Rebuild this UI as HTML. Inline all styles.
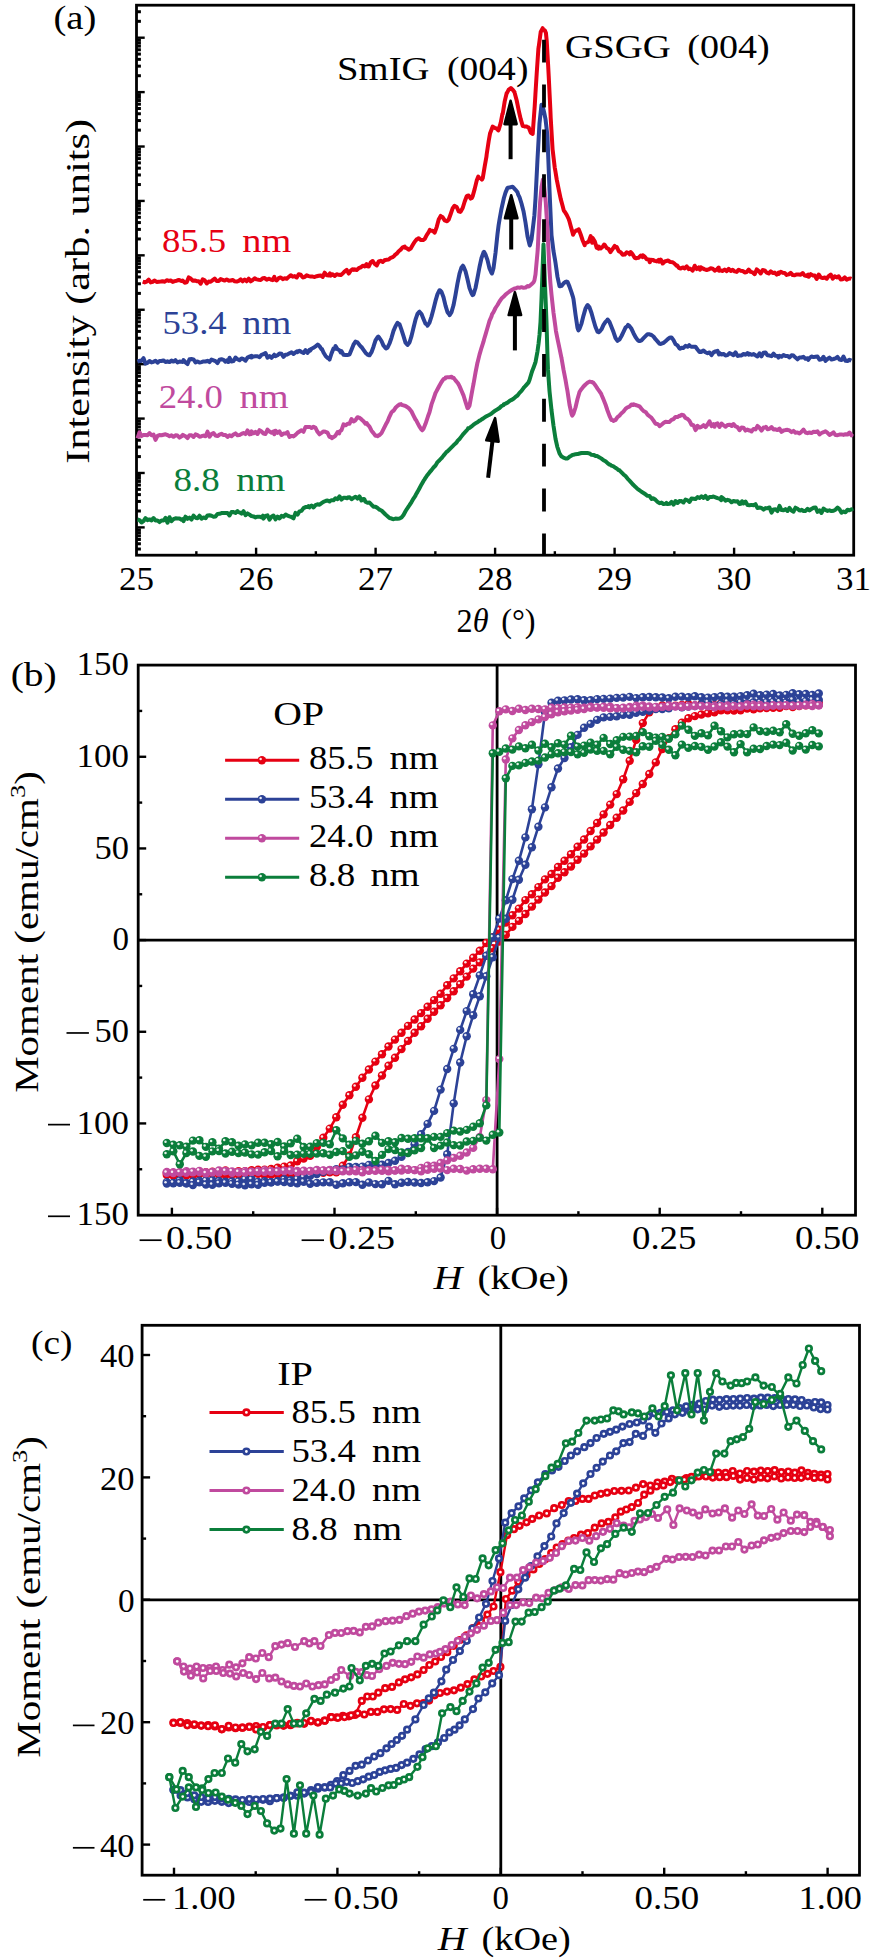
<!DOCTYPE html>
<html><head><meta charset="utf-8"><style>
html,body{margin:0;padding:0;background:#fff;}
svg{display:block;}
text{font-family:"Liberation Serif", serif;}
</style></head><body>
<svg width="874" height="1958" viewBox="0 0 874 1958">
<rect width="874" height="1958" fill="#fff"/>
<rect x="136.5" y="5.2" width="717.2" height="550" fill="none" stroke="#000" stroke-width="2.8"/>
<line x1="196.35" y1="555.2" x2="196.35" y2="551.2" stroke="#000" stroke-width="2.4" />
<line x1="256.1" y1="555.2" x2="256.1" y2="547.7" stroke="#000" stroke-width="2.4" />
<line x1="315.85" y1="555.2" x2="315.85" y2="551.2" stroke="#000" stroke-width="2.4" />
<line x1="375.6" y1="555.2" x2="375.6" y2="547.7" stroke="#000" stroke-width="2.4" />
<line x1="435.35" y1="555.2" x2="435.35" y2="551.2" stroke="#000" stroke-width="2.4" />
<line x1="495.1" y1="555.2" x2="495.1" y2="547.7" stroke="#000" stroke-width="2.4" />
<line x1="554.85" y1="555.2" x2="554.85" y2="551.2" stroke="#000" stroke-width="2.4" />
<line x1="614.6" y1="555.2" x2="614.6" y2="547.7" stroke="#000" stroke-width="2.4" />
<line x1="674.35" y1="555.2" x2="674.35" y2="551.2" stroke="#000" stroke-width="2.4" />
<line x1="734.1" y1="555.2" x2="734.1" y2="547.7" stroke="#000" stroke-width="2.4" />
<line x1="793.85" y1="555.2" x2="793.85" y2="551.2" stroke="#000" stroke-width="2.4" />
<line x1="136.5" y1="21.32" x2="140.9" y2="21.32" stroke="#000" stroke-width="3.0" />
<line x1="136.5" y1="11.74" x2="140.9" y2="11.74" stroke="#000" stroke-width="3.0" />
<line x1="136.5" y1="37.7" x2="144.7" y2="37.7" stroke="#000" stroke-width="2.4" />
<line x1="136.5" y1="75.73" x2="140.9" y2="75.73" stroke="#000" stroke-width="3.0" />
<line x1="136.5" y1="66.15" x2="140.9" y2="66.15" stroke="#000" stroke-width="3.0" />
<line x1="136.5" y1="59.35" x2="140.9" y2="59.35" stroke="#000" stroke-width="3.0" />
<line x1="136.5" y1="54.08" x2="140.9" y2="54.08" stroke="#000" stroke-width="3.0" />
<line x1="136.5" y1="49.77" x2="140.9" y2="49.77" stroke="#000" stroke-width="3.0" />
<line x1="136.5" y1="46.13" x2="140.9" y2="46.13" stroke="#000" stroke-width="3.0" />
<line x1="136.5" y1="42.97" x2="140.9" y2="42.97" stroke="#000" stroke-width="3.0" />
<line x1="136.5" y1="40.19" x2="140.9" y2="40.19" stroke="#000" stroke-width="3.0" />
<line x1="136.5" y1="92.11" x2="144.7" y2="92.11" stroke="#000" stroke-width="2.4" />
<line x1="136.5" y1="130.14" x2="140.9" y2="130.14" stroke="#000" stroke-width="3.0" />
<line x1="136.5" y1="120.56" x2="140.9" y2="120.56" stroke="#000" stroke-width="3.0" />
<line x1="136.5" y1="113.76" x2="140.9" y2="113.76" stroke="#000" stroke-width="3.0" />
<line x1="136.5" y1="108.49" x2="140.9" y2="108.49" stroke="#000" stroke-width="3.0" />
<line x1="136.5" y1="104.18" x2="140.9" y2="104.18" stroke="#000" stroke-width="3.0" />
<line x1="136.5" y1="100.54" x2="140.9" y2="100.54" stroke="#000" stroke-width="3.0" />
<line x1="136.5" y1="97.38" x2="140.9" y2="97.38" stroke="#000" stroke-width="3.0" />
<line x1="136.5" y1="94.6" x2="140.9" y2="94.6" stroke="#000" stroke-width="3.0" />
<line x1="136.5" y1="146.52" x2="144.7" y2="146.52" stroke="#000" stroke-width="2.4" />
<line x1="136.5" y1="184.55" x2="140.9" y2="184.55" stroke="#000" stroke-width="3.0" />
<line x1="136.5" y1="174.97" x2="140.9" y2="174.97" stroke="#000" stroke-width="3.0" />
<line x1="136.5" y1="168.17" x2="140.9" y2="168.17" stroke="#000" stroke-width="3.0" />
<line x1="136.5" y1="162.9" x2="140.9" y2="162.9" stroke="#000" stroke-width="3.0" />
<line x1="136.5" y1="158.59" x2="140.9" y2="158.59" stroke="#000" stroke-width="3.0" />
<line x1="136.5" y1="154.95" x2="140.9" y2="154.95" stroke="#000" stroke-width="3.0" />
<line x1="136.5" y1="151.79" x2="140.9" y2="151.79" stroke="#000" stroke-width="3.0" />
<line x1="136.5" y1="149.01" x2="140.9" y2="149.01" stroke="#000" stroke-width="3.0" />
<line x1="136.5" y1="200.93" x2="144.7" y2="200.93" stroke="#000" stroke-width="2.4" />
<line x1="136.5" y1="238.96" x2="140.9" y2="238.96" stroke="#000" stroke-width="3.0" />
<line x1="136.5" y1="229.38" x2="140.9" y2="229.38" stroke="#000" stroke-width="3.0" />
<line x1="136.5" y1="222.58" x2="140.9" y2="222.58" stroke="#000" stroke-width="3.0" />
<line x1="136.5" y1="217.31" x2="140.9" y2="217.31" stroke="#000" stroke-width="3.0" />
<line x1="136.5" y1="213" x2="140.9" y2="213" stroke="#000" stroke-width="3.0" />
<line x1="136.5" y1="209.36" x2="140.9" y2="209.36" stroke="#000" stroke-width="3.0" />
<line x1="136.5" y1="206.2" x2="140.9" y2="206.2" stroke="#000" stroke-width="3.0" />
<line x1="136.5" y1="203.42" x2="140.9" y2="203.42" stroke="#000" stroke-width="3.0" />
<line x1="136.5" y1="255.34" x2="144.7" y2="255.34" stroke="#000" stroke-width="2.4" />
<line x1="136.5" y1="293.37" x2="140.9" y2="293.37" stroke="#000" stroke-width="3.0" />
<line x1="136.5" y1="283.79" x2="140.9" y2="283.79" stroke="#000" stroke-width="3.0" />
<line x1="136.5" y1="276.99" x2="140.9" y2="276.99" stroke="#000" stroke-width="3.0" />
<line x1="136.5" y1="271.72" x2="140.9" y2="271.72" stroke="#000" stroke-width="3.0" />
<line x1="136.5" y1="267.41" x2="140.9" y2="267.41" stroke="#000" stroke-width="3.0" />
<line x1="136.5" y1="263.77" x2="140.9" y2="263.77" stroke="#000" stroke-width="3.0" />
<line x1="136.5" y1="260.61" x2="140.9" y2="260.61" stroke="#000" stroke-width="3.0" />
<line x1="136.5" y1="257.83" x2="140.9" y2="257.83" stroke="#000" stroke-width="3.0" />
<line x1="136.5" y1="309.75" x2="144.7" y2="309.75" stroke="#000" stroke-width="2.4" />
<line x1="136.5" y1="347.78" x2="140.9" y2="347.78" stroke="#000" stroke-width="3.0" />
<line x1="136.5" y1="338.2" x2="140.9" y2="338.2" stroke="#000" stroke-width="3.0" />
<line x1="136.5" y1="331.4" x2="140.9" y2="331.4" stroke="#000" stroke-width="3.0" />
<line x1="136.5" y1="326.13" x2="140.9" y2="326.13" stroke="#000" stroke-width="3.0" />
<line x1="136.5" y1="321.82" x2="140.9" y2="321.82" stroke="#000" stroke-width="3.0" />
<line x1="136.5" y1="318.18" x2="140.9" y2="318.18" stroke="#000" stroke-width="3.0" />
<line x1="136.5" y1="315.02" x2="140.9" y2="315.02" stroke="#000" stroke-width="3.0" />
<line x1="136.5" y1="312.24" x2="140.9" y2="312.24" stroke="#000" stroke-width="3.0" />
<line x1="136.5" y1="364.16" x2="144.7" y2="364.16" stroke="#000" stroke-width="2.4" />
<line x1="136.5" y1="402.19" x2="140.9" y2="402.19" stroke="#000" stroke-width="3.0" />
<line x1="136.5" y1="392.61" x2="140.9" y2="392.61" stroke="#000" stroke-width="3.0" />
<line x1="136.5" y1="385.81" x2="140.9" y2="385.81" stroke="#000" stroke-width="3.0" />
<line x1="136.5" y1="380.54" x2="140.9" y2="380.54" stroke="#000" stroke-width="3.0" />
<line x1="136.5" y1="376.23" x2="140.9" y2="376.23" stroke="#000" stroke-width="3.0" />
<line x1="136.5" y1="372.59" x2="140.9" y2="372.59" stroke="#000" stroke-width="3.0" />
<line x1="136.5" y1="369.43" x2="140.9" y2="369.43" stroke="#000" stroke-width="3.0" />
<line x1="136.5" y1="366.65" x2="140.9" y2="366.65" stroke="#000" stroke-width="3.0" />
<line x1="136.5" y1="418.57" x2="144.7" y2="418.57" stroke="#000" stroke-width="2.4" />
<line x1="136.5" y1="456.6" x2="140.9" y2="456.6" stroke="#000" stroke-width="3.0" />
<line x1="136.5" y1="447.02" x2="140.9" y2="447.02" stroke="#000" stroke-width="3.0" />
<line x1="136.5" y1="440.22" x2="140.9" y2="440.22" stroke="#000" stroke-width="3.0" />
<line x1="136.5" y1="434.95" x2="140.9" y2="434.95" stroke="#000" stroke-width="3.0" />
<line x1="136.5" y1="430.64" x2="140.9" y2="430.64" stroke="#000" stroke-width="3.0" />
<line x1="136.5" y1="427" x2="140.9" y2="427" stroke="#000" stroke-width="3.0" />
<line x1="136.5" y1="423.84" x2="140.9" y2="423.84" stroke="#000" stroke-width="3.0" />
<line x1="136.5" y1="421.06" x2="140.9" y2="421.06" stroke="#000" stroke-width="3.0" />
<line x1="136.5" y1="472.98" x2="144.7" y2="472.98" stroke="#000" stroke-width="2.4" />
<line x1="136.5" y1="511.01" x2="140.9" y2="511.01" stroke="#000" stroke-width="3.0" />
<line x1="136.5" y1="501.43" x2="140.9" y2="501.43" stroke="#000" stroke-width="3.0" />
<line x1="136.5" y1="494.63" x2="140.9" y2="494.63" stroke="#000" stroke-width="3.0" />
<line x1="136.5" y1="489.36" x2="140.9" y2="489.36" stroke="#000" stroke-width="3.0" />
<line x1="136.5" y1="485.05" x2="140.9" y2="485.05" stroke="#000" stroke-width="3.0" />
<line x1="136.5" y1="481.41" x2="140.9" y2="481.41" stroke="#000" stroke-width="3.0" />
<line x1="136.5" y1="478.25" x2="140.9" y2="478.25" stroke="#000" stroke-width="3.0" />
<line x1="136.5" y1="475.47" x2="140.9" y2="475.47" stroke="#000" stroke-width="3.0" />
<line x1="136.5" y1="527.39" x2="144.7" y2="527.39" stroke="#000" stroke-width="2.4" />
<line x1="136.5" y1="549.04" x2="140.9" y2="549.04" stroke="#000" stroke-width="3.0" />
<line x1="136.5" y1="543.77" x2="140.9" y2="543.77" stroke="#000" stroke-width="3.0" />
<line x1="136.5" y1="539.46" x2="140.9" y2="539.46" stroke="#000" stroke-width="3.0" />
<line x1="136.5" y1="535.82" x2="140.9" y2="535.82" stroke="#000" stroke-width="3.0" />
<line x1="136.5" y1="532.66" x2="140.9" y2="532.66" stroke="#000" stroke-width="3.0" />
<line x1="136.5" y1="529.88" x2="140.9" y2="529.88" stroke="#000" stroke-width="3.0" />
<rect x="138.2" y="665.1" width="717.3" height="550.1" fill="none" stroke="#000" stroke-width="2.8"/>
<line x1="171.9" y1="1215.2" x2="171.9" y2="1207.7" stroke="#000" stroke-width="2.4" />
<line x1="253.2" y1="1215.2" x2="253.2" y2="1211.2" stroke="#000" stroke-width="2.4" />
<line x1="334.5" y1="1215.2" x2="334.5" y2="1207.7" stroke="#000" stroke-width="2.4" />
<line x1="415.8" y1="1215.2" x2="415.8" y2="1211.2" stroke="#000" stroke-width="2.4" />
<line x1="497.1" y1="1215.2" x2="497.1" y2="1207.7" stroke="#000" stroke-width="2.4" />
<line x1="578.4" y1="1215.2" x2="578.4" y2="1211.2" stroke="#000" stroke-width="2.4" />
<line x1="659.7" y1="1215.2" x2="659.7" y2="1207.7" stroke="#000" stroke-width="2.4" />
<line x1="741" y1="1215.2" x2="741" y2="1211.2" stroke="#000" stroke-width="2.4" />
<line x1="822.3" y1="1215.2" x2="822.3" y2="1207.7" stroke="#000" stroke-width="2.4" />
<line x1="138.2" y1="1169.26" x2="142.2" y2="1169.26" stroke="#000" stroke-width="2.4" />
<line x1="138.2" y1="1123.43" x2="146.2" y2="1123.43" stroke="#000" stroke-width="2.4" />
<line x1="138.2" y1="1077.6" x2="142.2" y2="1077.6" stroke="#000" stroke-width="2.4" />
<line x1="138.2" y1="1031.77" x2="146.2" y2="1031.77" stroke="#000" stroke-width="2.4" />
<line x1="138.2" y1="985.93" x2="142.2" y2="985.93" stroke="#000" stroke-width="2.4" />
<line x1="138.2" y1="940.1" x2="146.2" y2="940.1" stroke="#000" stroke-width="2.4" />
<line x1="138.2" y1="894.27" x2="142.2" y2="894.27" stroke="#000" stroke-width="2.4" />
<line x1="138.2" y1="848.44" x2="146.2" y2="848.44" stroke="#000" stroke-width="2.4" />
<line x1="138.2" y1="802.6" x2="142.2" y2="802.6" stroke="#000" stroke-width="2.4" />
<line x1="138.2" y1="756.77" x2="146.2" y2="756.77" stroke="#000" stroke-width="2.4" />
<line x1="138.2" y1="710.94" x2="142.2" y2="710.94" stroke="#000" stroke-width="2.4" />
<line x1="138.2" y1="940.1" x2="855.5" y2="940.1" stroke="#000" stroke-width="2.8" />
<line x1="497.1" y1="665.1" x2="497.1" y2="1215.2" stroke="#000" stroke-width="2.8" />
<rect x="142.1" y="1325.3" width="717.4" height="549.9" fill="none" stroke="#000" stroke-width="2.8"/>
<line x1="174" y1="1875.2" x2="174" y2="1867.7" stroke="#000" stroke-width="2.4" />
<line x1="255.7" y1="1875.2" x2="255.7" y2="1871.2" stroke="#000" stroke-width="2.4" />
<line x1="337.4" y1="1875.2" x2="337.4" y2="1867.7" stroke="#000" stroke-width="2.4" />
<line x1="419.1" y1="1875.2" x2="419.1" y2="1871.2" stroke="#000" stroke-width="2.4" />
<line x1="500.8" y1="1875.2" x2="500.8" y2="1867.7" stroke="#000" stroke-width="2.4" />
<line x1="582.5" y1="1875.2" x2="582.5" y2="1871.2" stroke="#000" stroke-width="2.4" />
<line x1="664.2" y1="1875.2" x2="664.2" y2="1867.7" stroke="#000" stroke-width="2.4" />
<line x1="745.9" y1="1875.2" x2="745.9" y2="1871.2" stroke="#000" stroke-width="2.4" />
<line x1="827.6" y1="1875.2" x2="827.6" y2="1867.7" stroke="#000" stroke-width="2.4" />
<line x1="142.1" y1="1844.6" x2="150.1" y2="1844.6" stroke="#000" stroke-width="2.4" />
<line x1="142.1" y1="1783.4" x2="146.1" y2="1783.4" stroke="#000" stroke-width="2.4" />
<line x1="142.1" y1="1722.2" x2="150.1" y2="1722.2" stroke="#000" stroke-width="2.4" />
<line x1="142.1" y1="1661" x2="146.1" y2="1661" stroke="#000" stroke-width="2.4" />
<line x1="142.1" y1="1599.8" x2="150.1" y2="1599.8" stroke="#000" stroke-width="2.4" />
<line x1="142.1" y1="1538.6" x2="146.1" y2="1538.6" stroke="#000" stroke-width="2.4" />
<line x1="142.1" y1="1477.4" x2="150.1" y2="1477.4" stroke="#000" stroke-width="2.4" />
<line x1="142.1" y1="1416.2" x2="146.1" y2="1416.2" stroke="#000" stroke-width="2.4" />
<line x1="142.1" y1="1355" x2="150.1" y2="1355" stroke="#000" stroke-width="2.4" />
<line x1="142.1" y1="1599.8" x2="859.5" y2="1599.8" stroke="#000" stroke-width="2.8" />
<line x1="500.8" y1="1325.3" x2="500.8" y2="1875.2" stroke="#000" stroke-width="2.8" />
<defs>
<marker id="sR" markerUnits="userSpaceOnUse" markerWidth="12" markerHeight="12" refX="6" refY="6" overflow="visible"><circle cx="6" cy="6" r="4.2" fill="#e60012"/><circle cx="4.7" cy="4.7" r="1.25" fill="#fff" opacity="0.9"/></marker>
<marker id="sB" markerUnits="userSpaceOnUse" markerWidth="12" markerHeight="12" refX="6" refY="6" overflow="visible"><circle cx="6" cy="6" r="4.2" fill="#2c4297"/><circle cx="4.7" cy="4.7" r="1.25" fill="#fff" opacity="0.9"/></marker>
<marker id="sM" markerUnits="userSpaceOnUse" markerWidth="12" markerHeight="12" refX="6" refY="6" overflow="visible"><circle cx="6" cy="6" r="4.2" fill="#c04a9e"/><circle cx="4.7" cy="4.7" r="1.25" fill="#fff" opacity="0.9"/></marker>
<marker id="sG" markerUnits="userSpaceOnUse" markerWidth="12" markerHeight="12" refX="6" refY="6" overflow="visible"><circle cx="6" cy="6" r="4.2" fill="#0b7e3b"/><circle cx="4.7" cy="4.7" r="1.25" fill="#fff" opacity="0.9"/></marker>
<marker id="oR" markerUnits="userSpaceOnUse" markerWidth="12" markerHeight="12" refX="6" refY="6" overflow="visible"><circle cx="6" cy="6" r="2.75" fill="#fff" stroke="#e60012" stroke-width="2.7"/></marker>
<marker id="oB" markerUnits="userSpaceOnUse" markerWidth="12" markerHeight="12" refX="6" refY="6" overflow="visible"><circle cx="6" cy="6" r="2.75" fill="#fff" stroke="#2c4297" stroke-width="2.7"/></marker>
<marker id="oM" markerUnits="userSpaceOnUse" markerWidth="12" markerHeight="12" refX="6" refY="6" overflow="visible"><circle cx="6" cy="6" r="2.75" fill="#fff" stroke="#c04a9e" stroke-width="2.7"/></marker>
<marker id="oG" markerUnits="userSpaceOnUse" markerWidth="12" markerHeight="12" refX="6" refY="6" overflow="visible"><circle cx="6" cy="6" r="2.75" fill="#fff" stroke="#0b7e3b" stroke-width="2.7"/></marker>
</defs>
<path d="M142.7,281.7 L144.7,282.4 L146.7,281.7 L148.7,279.6 L150.7,282.4 L152.7,281.8 L154.7,280.5 L156.7,282.0 L158.7,281.7 L160.7,281.5 L162.7,281.2 L164.7,281.8 L166.7,280.2 L168.7,280.9 L170.7,280.5 L172.7,281.9 L174.7,281.1 L176.7,280.7 L178.7,280.0 L180.7,280.7 L182.0,281.0 L182.7,280.6 L184.7,282.7 L186.7,282.3 L188.7,277.4 L190.7,278.5 L192.7,280.7 L194.7,280.4 L196.7,281.2 L198.7,281.2 L200.7,283.6 L202.7,279.4 L204.7,280.3 L206.7,283.5 L208.7,281.6 L210.7,281.7 L212.7,280.1 L214.7,278.6 L216.7,281.0 L218.7,280.9 L220.7,279.1 L222.7,279.8 L224.7,280.6 L226.7,279.4 L228.5,280.5 L228.7,280.7 L230.7,280.6 L232.7,279.9 L234.7,281.3 L236.7,281.6 L238.7,280.8 L240.7,279.3 L242.7,281.3 L244.7,279.6 L246.7,281.3 L248.7,278.7 L250.7,281.3 L252.7,280.0 L254.7,278.3 L256.7,279.4 L258.7,279.8 L260.7,280.0 L262.7,278.3 L264.7,278.1 L266.7,279.7 L268.7,278.7 L270.7,279.5 L272.7,280.1 L274.3,276.9 L274.7,279.3 L276.7,280.4 L278.7,278.2 L280.7,277.4 L282.7,279.1 L284.7,278.2 L286.7,278.8 L288.7,276.9 L290.7,275.2 L292.7,276.7 L294.7,276.1 L296.7,277.5 L297.2,276.8 L298.7,274.3 L300.7,274.8 L302.7,277.4 L304.7,277.1 L306.7,275.3 L308.7,276.1 L310.7,276.6 L312.7,276.6 L314.7,277.0 L316.7,276.2 L318.7,275.7 L320.7,275.4 L322.7,277.0 L324.7,272.7 L326.7,275.3 L328.7,275.4 L330.0,273.4 L330.7,275.7 L332.7,274.2 L334.7,275.9 L336.7,274.2 L338.7,274.8 L340.7,275.1 L342.7,273.5 L344.7,271.3 L346.7,269.9 L348.7,273.6 L350.7,270.6 L352.7,269.2 L353.8,270.0 L354.7,269.3 L356.7,270.0 L358.7,268.2 L360.7,267.4 L362.7,265.7 L364.7,266.5 L366.6,264.0 L366.7,266.1 L368.7,266.6 L370.7,262.4 L372.7,261.0 L374.7,264.0 L376.7,265.5 L378.7,261.5 L380.7,260.8 L382.7,261.9 L384.7,260.1 L384.9,260.3 L386.7,259.7 L388.7,259.5 L390.7,257.8 L392.7,257.1 L394.1,256.0 L394.7,255.2 L396.7,253.7 L398.7,251.2 L400.7,249.6 L402.7,247.3 L404.7,246.5 L405.1,247.7 L406.7,248.1 L408.7,249.7 L410.7,248.6 L412.7,245.1 L414.7,241.7 L416.7,239.4 L417.9,238.8 L418.7,238.2 L420.7,240.0 L422.7,240.1 L423.4,240.0 L424.7,239.0 L426.7,235.1 L428.7,232.1 L429.8,229.9 L430.7,230.8 L432.7,230.7 L434.3,232.3 L434.7,232.6 L436.7,227.1 L438.7,219.5 L440.7,215.9 L440.8,216.2 L442.7,217.3 L444.7,220.4 L446.7,221.3 L447.2,221.0 L448.7,219.5 L450.7,214.0 L452.7,208.2 L454.5,205.8 L454.7,205.9 L456.7,207.0 L458.7,211.4 L460.3,211.9 L460.7,211.5 L462.7,208.0 L464.7,201.5 L466.7,196.3 L467.3,195.8 L468.7,195.6 L470.7,198.6 L471.9,197.9 L472.7,196.1 L474.7,188.9 L476.7,180.6 L478.3,176.6 L478.7,177.5 L480.7,178.4 L481.9,179.6 L482.7,178.3 L484.7,166.3 L486.4,156.9 L486.7,154.3 L488.7,141.0 L490.1,133.2 L490.7,131.7 L492.7,126.6 L493.8,127.3 L494.7,127.8 L496.7,128.6 L498.3,130.4 L498.7,129.6 L500.7,122.9 L502.5,113.4 L502.7,114.0 L504.7,101.4 L506.7,93.0 L506.8,93.3 L508.7,89.6 L510.7,88.3 L510.9,88.1 L512.7,89.7 L514.6,92.3 L514.7,92.9 L516.7,100.5 L518.7,110.4 L519.1,112.2 L520.7,119.1 L522.7,125.9 L522.8,125.4 L524.7,126.4 L526.7,126.6 L528.0,127.2 L528.7,127.6 L530.7,132.6 L532.5,134.0 L532.7,133.9 L534.7,106.3 L535.4,94.6 L536.7,73.5 L538.4,48.7 L538.7,46.9 L540.7,32.0 L542.7,28.2 L542.9,29.3 L544.7,30.2 L545.9,32.8 L546.7,40.7 L548.1,64.5 L548.7,75.9 L550.3,108.4 L550.7,117.9 L552.6,149.7 L552.7,150.3 L554.7,167.3 L555.5,171.8 L556.7,179.4 L558.3,187.3 L558.7,189.4 L560.7,198.9 L562.7,206.2 L563.8,210.5 L564.7,211.7 L566.7,214.8 L568.7,219.0 L569.3,220.8 L570.7,226.0 L572.7,233.1 L573.0,234.7 L574.7,231.6 L576.7,230.3 L578.4,230.5 L578.7,229.2 L580.7,234.5 L582.7,240.5 L584.7,245.2 L584.9,243.1 L586.7,242.6 L588.7,241.7 L590.7,236.1 L592.2,242.7 L592.7,238.0 L594.7,241.2 L596.7,247.8 L598.6,248.7 L598.7,246.5 L600.7,248.4 L602.7,246.8 L604.1,244.5 L604.7,244.9 L606.7,248.0 L608.7,249.1 L610.5,252.1 L610.7,251.7 L612.7,248.8 L614.7,245.8 L615.1,247.2 L616.7,246.9 L618.7,251.2 L620.7,252.2 L622.7,254.8 L624.2,254.5 L624.7,254.6 L626.7,252.3 L628.7,253.1 L629.7,254.3 L630.7,252.1 L632.7,254.4 L634.7,257.8 L636.1,258.3 L636.7,257.9 L638.7,257.7 L640.7,255.5 L642.5,257.1 L642.7,255.2 L644.7,256.6 L646.7,259.3 L648.7,259.4 L649.8,262.2 L650.7,259.7 L652.7,259.9 L654.7,260.9 L656.7,261.4 L658.7,259.9 L659.0,261.7 L660.7,259.5 L662.7,263.5 L664.7,261.5 L666.7,260.8 L668.1,260.4 L668.7,261.1 L670.7,262.1 L672.7,262.2 L674.7,263.8 L676.7,265.8 L677.3,265.5 L678.7,267.8 L680.7,268.5 L682.7,267.4 L684.7,268.4 L686.7,266.3 L688.7,269.1 L689.2,268.3 L690.7,269.0 L692.7,270.6 L694.7,265.7 L696.7,269.1 L698.7,267.4 L700.0,269.7 L700.7,267.2 L702.7,268.4 L704.7,269.4 L706.7,270.0 L708.7,269.4 L710.7,268.3 L712.7,268.7 L714.7,270.7 L716.7,269.6 L718.7,267.5 L719.0,270.8 L720.7,270.3 L722.7,271.0 L724.7,269.5 L726.7,271.1 L728.7,268.8 L730.7,271.0 L732.7,269.7 L734.7,271.4 L736.7,271.9 L738.7,269.7 L740.7,270.7 L742.7,270.9 L744.7,272.5 L746.7,272.0 L748.7,269.6 L750.7,271.9 L752.7,272.4 L754.7,274.2 L756.7,269.4 L758.7,271.0 L760.7,273.5 L762.7,270.1 L764.7,270.4 L766.7,272.7 L768.7,273.5 L770.7,271.4 L772.7,273.0 L774.7,272.6 L776.7,274.6 L778.5,272.7 L778.7,274.0 L780.7,271.7 L782.7,272.8 L784.7,273.1 L786.7,274.9 L788.7,274.4 L790.7,272.9 L792.7,275.0 L794.7,275.3 L796.7,274.4 L798.7,274.4 L800.7,274.7 L802.7,273.0 L804.7,275.6 L806.7,275.9 L808.2,274.6 L808.7,276.7 L810.7,274.1 L812.7,275.4 L814.7,275.6 L816.7,279.0 L818.7,274.5 L820.7,277.4 L822.7,278.1 L824.7,277.5 L826.7,278.7 L828.7,276.0 L830.7,274.5 L832.7,278.6 L834.7,276.2 L836.7,277.4 L838.7,276.4 L840.7,279.5 L842.7,279.3 L844.7,277.4 L846.7,279.6 L848.7,278.7 L850.7,278.5 L851.4,278.8" fill="none" stroke="#e60012" stroke-width="4.0" stroke-linejoin="round"/>
<path d="M137.5,361.6 L139.5,360.7 L141.5,360.9 L143.5,358.2 L145.5,363.7 L147.5,362.9 L149.5,361.0 L151.5,362.4 L153.5,361.8 L155.5,360.7 L157.5,362.7 L159.5,361.0 L161.5,361.0 L163.5,360.4 L165.5,362.0 L167.5,361.3 L169.5,362.1 L171.5,360.6 L173.5,361.6 L175.5,360.2 L177.5,362.5 L179.5,361.6 L181.5,361.8 L182.8,361.9 L183.5,360.1 L185.5,362.4 L187.5,364.1 L189.5,359.2 L191.5,359.1 L193.5,359.4 L195.5,362.4 L197.5,361.4 L199.5,362.6 L201.5,362.1 L203.5,361.4 L205.5,361.5 L207.5,360.8 L209.5,362.1 L211.5,359.5 L213.5,360.3 L215.5,361.1 L217.5,363.1 L219.5,359.7 L221.5,359.2 L223.5,359.8 L225.5,361.7 L227.5,360.0 L228.5,362.0 L229.5,357.8 L231.5,361.5 L233.5,361.1 L235.5,357.6 L237.5,359.3 L239.5,360.3 L241.5,358.4 L243.5,359.2 L245.5,360.7 L247.5,357.6 L249.5,356.6 L251.4,355.8 L251.5,357.6 L253.5,356.4 L255.5,356.3 L257.5,356.3 L259.5,357.2 L261.5,354.9 L263.5,354.2 L265.5,353.0 L267.5,357.6 L269.5,356.1 L271.5,357.8 L273.5,355.7 L274.3,354.7 L275.5,356.2 L277.5,355.3 L279.5,353.5 L281.5,353.7 L283.5,356.9 L285.5,354.7 L287.5,354.4 L289.5,353.2 L291.5,352.3 L293.5,354.0 L295.5,352.4 L297.2,351.3 L297.5,352.1 L299.5,350.8 L301.5,352.0 L303.5,353.0 L305.5,350.2 L307.5,352.9 L309.5,349.8 L310.0,350.7 L311.5,348.7 L313.5,347.8 L315.5,346.4 L317.5,344.9 L317.8,344.5 L319.5,346.1 L321.5,349.3 L322.0,349.0 L323.5,352.5 L325.5,355.8 L327.5,358.0 L328.6,358.0 L329.5,359.6 L331.5,353.5 L333.5,348.4 L335.4,348.8 L335.5,345.9 L337.5,349.3 L339.5,350.2 L340.6,352.4 L341.5,351.1 L343.5,354.7 L345.5,355.0 L347.5,354.9 L349.5,354.6 L351.5,349.7 L353.5,344.7 L355.5,341.6 L356.0,341.8 L357.5,342.4 L359.5,345.0 L361.2,347.1 L361.5,347.0 L363.5,349.8 L365.5,352.7 L367.5,354.6 L368.9,355.3 L369.5,355.3 L371.5,352.2 L373.5,346.7 L375.5,340.4 L377.5,337.2 L378.3,336.5 L379.5,338.0 L381.5,341.0 L383.5,345.6 L385.5,348.1 L386.1,348.4 L387.5,347.7 L389.5,343.5 L391.5,337.8 L393.5,330.9 L395.5,326.2 L397.5,322.8 L398.1,323.4 L399.5,324.2 L401.5,329.9 L403.5,336.1 L405.5,342.7 L407.5,344.9 L409.5,342.5 L411.5,336.1 L413.5,327.7 L415.5,319.7 L417.5,313.8 L419.2,311.9 L419.5,311.7 L421.5,314.0 L423.5,319.0 L425.5,323.7 L427.3,324.9 L427.5,325.7 L429.5,322.7 L431.5,316.5 L433.5,309.0 L435.5,300.9 L437.5,294.1 L439.5,290.2 L440.1,290.4 L441.5,291.9 L443.5,297.3 L445.5,305.6 L447.5,312.2 L449.5,314.6 L449.6,315.2 L451.5,312.1 L453.5,305.3 L455.5,294.9 L457.5,283.3 L459.5,273.6 L461.5,267.4 L462.9,265.7 L463.5,266.6 L465.5,271.2 L467.5,279.2 L469.5,288.1 L471.5,293.3 L472.6,295.1 L473.5,294.5 L475.5,288.0 L477.5,277.8 L479.5,267.0 L481.5,258.0 L483.5,252.4 L484.0,251.8 L485.5,254.5 L487.5,260.1 L489.5,268.5 L491.5,272.8 L492.0,273.5 L493.5,268.3 L495.5,253.0 L497.5,234.0 L498.6,225.3 L499.5,219.8 L501.5,208.7 L503.5,199.8 L503.9,198.0 L505.5,192.6 L507.5,187.9 L508.1,187.7 L509.5,187.4 L511.5,187.1 L512.6,186.7 L513.5,187.6 L515.5,189.8 L517.5,192.3 L518.2,194.7 L519.5,197.2 L521.5,203.5 L523.5,211.2 L524.1,214.5 L525.5,222.5 L527.5,236.3 L529.5,244.5 L529.8,245.5 L531.5,239.5 L533.5,223.1 L534.4,215.2 L535.5,198.7 L537.2,165.3 L537.5,159.2 L539.5,123.2 L541.5,104.8 L541.8,105.0 L543.5,109.6 L544.2,112.6 L545.5,119.1 L547.3,134.8 L547.5,137.4 L549.5,190.0 L551.5,235.3 L553.5,251.2 L555.0,259.7 L555.5,262.8 L557.5,276.9 L559.5,286.1 L560.0,286.3 L561.5,285.9 L563.5,283.4 L565.5,281.9 L566.5,281.5 L567.5,281.9 L569.5,286.6 L571.5,292.3 L573.0,297.1 L573.5,299.3 L575.5,314.5 L577.5,327.9 L578.4,330.4 L579.5,328.9 L581.5,323.6 L583.5,315.6 L585.5,308.6 L587.5,305.1 L587.6,305.0 L589.5,307.3 L591.5,313.0 L593.5,320.2 L595.5,327.0 L597.5,331.8 L598.6,332.3 L599.5,331.7 L601.5,329.3 L603.5,324.9 L605.5,321.9 L607.5,320.0 L607.6,319.4 L609.5,322.0 L611.5,327.0 L613.5,332.1 L615.5,338.0 L617.5,340.8 L617.8,340.4 L619.5,339.5 L621.5,336.0 L623.5,331.9 L625.5,327.6 L627.5,325.9 L628.1,324.9 L629.5,326.1 L631.5,328.8 L633.5,333.2 L635.5,337.0 L637.5,339.8 L638.8,340.8 L639.5,341.1 L641.5,340.3 L643.5,338.2 L645.5,336.2 L647.5,334.2 L649.5,334.3 L651.5,335.0 L653.5,336.5 L655.5,339.2 L657.5,341.4 L659.5,343.8 L660.9,343.9 L661.5,343.7 L663.5,342.9 L665.5,341.3 L667.5,339.4 L669.5,337.8 L670.9,337.5 L671.5,337.4 L673.5,340.1 L675.5,344.1 L677.5,345.4 L679.5,348.5 L680.3,348.8 L681.5,347.8 L683.5,347.9 L685.5,345.9 L687.5,346.8 L689.2,345.1 L689.5,345.7 L691.5,346.8 L693.5,346.8 L695.5,346.8 L697.5,349.5 L699.5,352.0 L701.1,351.5 L701.5,351.9 L703.5,350.5 L705.5,352.3 L707.5,353.2 L709.5,352.5 L711.5,355.1 L713.5,352.4 L715.5,351.4 L717.5,350.8 L719.0,354.5 L719.5,353.0 L721.5,354.5 L723.5,353.9 L725.5,355.5 L727.5,355.1 L729.5,353.1 L731.5,354.0 L733.5,355.2 L735.5,352.3 L737.5,355.9 L739.5,355.6 L741.5,355.4 L743.5,354.0 L745.5,354.7 L747.5,353.0 L748.7,354.6 L749.5,353.8 L751.5,354.8 L753.5,354.1 L755.5,355.2 L757.5,356.5 L759.5,353.3 L761.5,356.3 L763.5,352.7 L765.5,352.5 L767.5,355.3 L769.5,355.6 L771.5,356.2 L773.5,353.6 L775.5,355.8 L777.5,356.1 L778.5,357.6 L779.5,355.9 L781.5,356.8 L783.5,355.0 L785.5,356.1 L787.5,355.9 L789.5,357.5 L791.5,355.3 L793.5,355.6 L795.5,357.6 L797.5,359.3 L799.5,357.5 L801.5,357.5 L803.5,356.8 L805.5,358.8 L807.5,358.2 L808.2,359.8 L809.5,358.0 L811.5,356.5 L813.5,357.1 L815.5,356.7 L817.5,356.4 L819.5,359.8 L821.5,359.4 L823.5,356.8 L825.5,360.9 L827.5,359.0 L829.5,357.6 L831.5,359.5 L833.5,359.0 L835.5,358.3 L837.5,356.9 L839.5,359.6 L841.5,360.1 L843.5,356.5 L845.5,360.8 L847.5,361.0 L849.5,359.7 L851.4,360.6" fill="none" stroke="#2c4297" stroke-width="4.0" stroke-linejoin="round"/>
<path d="M137.5,438.3 L139.5,432.3 L141.5,436.1 L143.5,434.9 L145.5,435.0 L147.5,435.3 L149.5,433.0 L151.5,435.3 L153.5,434.5 L155.5,439.9 L157.5,435.9 L159.5,435.1 L161.5,435.2 L163.5,434.7 L165.5,434.2 L167.5,435.1 L169.5,436.2 L171.5,435.3 L173.5,436.8 L175.5,435.3 L177.5,435.6 L179.5,437.6 L181.5,436.3 L182.8,434.9 L183.5,435.4 L185.5,436.3 L187.5,438.1 L189.5,435.2 L191.5,435.3 L193.5,436.9 L195.5,434.4 L197.5,435.2 L199.5,436.7 L201.5,436.2 L203.5,435.6 L205.5,436.3 L207.5,431.7 L209.5,436.7 L211.5,434.1 L213.5,433.1 L215.5,435.6 L217.5,436.1 L219.5,434.6 L221.5,433.8 L223.5,435.1 L225.5,435.0 L227.5,436.9 L228.5,436.0 L229.5,435.2 L231.5,436.3 L233.5,434.5 L235.5,433.4 L237.5,435.3 L239.5,435.1 L241.5,433.9 L243.5,433.0 L245.5,434.1 L247.5,430.4 L249.5,434.4 L251.4,434.0 L251.5,431.3 L253.5,433.3 L255.5,431.9 L257.5,434.0 L259.5,430.2 L261.5,431.5 L263.5,433.5 L265.5,434.0 L267.5,429.6 L269.5,431.6 L271.5,432.7 L273.5,431.4 L274.3,434.3 L275.5,430.7 L277.5,432.9 L279.5,431.4 L281.5,435.0 L283.5,433.6 L285.5,433.6 L287.5,432.2 L289.5,437.0 L291.5,435.9 L292.6,436.0 L293.5,436.4 L295.5,434.9 L297.5,432.8 L299.5,431.5 L301.5,430.2 L303.5,431.8 L305.5,426.9 L307.5,427.1 L309.5,426.9 L310.9,427.5 L311.5,428.0 L313.5,426.7 L315.5,427.8 L317.5,431.8 L319.5,434.3 L320.0,433.8 L321.5,432.8 L323.5,431.4 L325.5,431.8 L327.5,432.6 L329.5,436.9 L331.5,436.9 L332.0,438.2 L333.5,437.2 L335.5,435.6 L337.5,432.2 L339.2,433.3 L339.5,431.7 L341.5,430.2 L343.5,424.3 L345.5,425.3 L347.5,423.8 L349.5,423.8 L351.5,419.1 L353.5,421.5 L355.5,420.2 L357.5,417.2 L358.4,417.5 L359.5,417.8 L361.5,419.4 L363.5,421.2 L365.5,423.8 L366.7,423.1 L367.5,424.5 L369.5,426.6 L371.5,430.7 L373.5,433.1 L375.5,435.8 L377.5,435.7 L377.7,436.1 L379.5,435.0 L381.5,433.1 L383.5,429.2 L385.5,425.1 L385.9,424.3 L387.5,421.5 L389.5,416.6 L391.5,412.4 L392.8,411.0 L393.5,410.9 L395.5,407.8 L397.5,405.9 L399.5,404.5 L401.0,404.1 L401.5,404.8 L403.5,405.4 L405.5,406.0 L407.5,407.3 L407.9,407.4 L409.5,409.0 L411.5,411.5 L413.5,415.6 L415.5,419.5 L416.1,420.1 L417.5,422.8 L419.5,426.7 L421.5,429.6 L422.3,430.3 L423.5,428.8 L425.5,423.8 L427.5,417.8 L428.0,416.3 L429.5,412.3 L431.5,404.4 L433.5,398.9 L435.5,393.0 L436.0,392.1 L437.5,389.3 L439.5,385.5 L441.5,382.0 L443.5,379.1 L445.5,378.3 L445.6,377.6 L447.5,377.3 L449.5,377.3 L451.5,376.7 L452.0,377.7 L453.5,377.8 L455.5,380.4 L457.5,382.7 L458.4,384.0 L459.5,386.1 L461.5,390.8 L463.5,395.4 L464.0,397.0 L465.5,401.8 L467.5,408.2 L468.1,407.9 L469.5,405.6 L471.5,394.7 L472.9,387.0 L473.5,384.0 L475.5,372.6 L477.5,362.5 L477.7,362.0 L479.5,354.6 L481.5,347.8 L483.5,341.7 L484.1,339.3 L485.5,334.6 L487.5,327.7 L489.5,320.9 L491.5,316.4 L492.0,314.4 L493.5,312.1 L495.5,308.0 L497.5,305.0 L499.5,301.5 L501.5,298.6 L503.5,296.8 L505.5,294.6 L507.5,293.0 L509.5,291.5 L511.5,290.1 L513.5,289.1 L514.9,288.4 L515.5,288.5 L517.5,287.4 L519.5,287.8 L521.5,287.2 L523.5,287.8 L525.5,287.6 L527.5,286.0 L528.6,286.5 L529.5,286.0 L531.5,284.3 L533.5,282.4 L534.4,280.5 L535.5,274.4 L537.5,252.4 L537.8,248.5 L539.5,213.1 L540.1,202.5 L541.5,187.1 L542.9,179.5 L543.5,180.4 L545.5,199.3 L545.8,202.9 L547.5,230.2 L549.5,270.4 L550.4,283.1 L551.5,294.6 L553.5,312.7 L555.5,327.4 L555.9,330.8 L557.5,338.9 L559.5,348.4 L561.4,357.7 L561.5,358.0 L563.5,369.7 L565.5,379.9 L566.9,388.0 L567.5,391.2 L569.5,404.8 L571.5,413.7 L572.2,415.6 L573.5,413.6 L575.5,407.5 L577.5,399.0 L579.5,392.0 L580.6,390.2 L581.5,389.1 L583.5,386.5 L585.5,384.5 L587.5,382.8 L589.5,381.6 L590.5,381.8 L591.5,381.9 L593.5,382.9 L595.5,385.5 L597.5,388.6 L599.5,391.4 L601.2,393.9 L601.5,394.7 L603.5,399.5 L605.5,404.5 L607.5,410.5 L609.5,415.9 L611.5,420.1 L613.2,420.2 L613.5,420.9 L615.5,420.0 L617.5,417.1 L619.5,415.7 L620.1,414.8 L621.5,413.2 L623.5,411.5 L625.5,408.9 L627.5,407.3 L629.5,406.6 L631.5,404.5 L633.5,405.0 L633.8,404.3 L635.5,405.0 L637.5,405.6 L639.5,406.4 L641.5,408.8 L643.5,411.0 L645.5,412.1 L645.8,412.2 L647.5,414.6 L649.5,416.2 L651.5,417.8 L653.5,420.6 L655.5,423.7 L657.5,424.0 L659.5,425.7 L659.6,426.2 L661.5,424.7 L663.5,423.0 L665.5,421.8 L667.5,422.0 L669.5,421.9 L671.5,419.9 L673.5,419.1 L675.5,416.9 L677.5,417.1 L679.5,415.7 L680.2,415.9 L681.5,414.8 L683.5,415.3 L685.5,418.0 L687.5,418.9 L689.5,420.9 L691.5,424.7 L693.5,425.2 L695.5,430.1 L697.3,427.8 L697.5,425.8 L699.5,427.5 L701.5,426.8 L703.5,425.2 L705.5,427.2 L707.5,424.5 L709.5,421.3 L711.5,426.1 L713.5,424.1 L714.5,426.8 L715.5,424.1 L717.5,423.4 L719.5,426.9 L721.5,423.5 L723.5,425.2 L725.5,426.8 L727.5,425.0 L729.5,424.8 L731.5,425.0 L731.6,426.0 L733.5,424.0 L735.5,426.4 L737.5,427.1 L739.5,430.2 L741.5,427.6 L743.5,427.7 L745.5,430.6 L747.5,429.5 L748.8,430.5 L749.5,430.3 L751.5,431.5 L753.5,428.9 L755.5,429.4 L757.5,425.9 L759.5,427.8 L761.5,430.7 L763.5,427.6 L765.5,427.5 L766.0,426.8 L767.5,429.2 L769.5,428.7 L771.5,427.1 L773.5,429.6 L775.5,429.3 L777.5,430.1 L779.5,428.6 L781.5,431.9 L783.5,430.5 L785.5,430.1 L787.5,429.8 L789.5,430.4 L791.5,432.1 L793.5,430.9 L795.5,432.8 L797.5,432.4 L799.5,433.5 L800.3,432.9 L801.5,431.8 L803.5,429.5 L805.5,432.5 L807.5,433.2 L809.5,432.5 L811.5,433.1 L813.5,431.8 L815.5,432.0 L817.5,431.4 L819.5,434.5 L821.5,433.0 L823.5,432.2 L825.5,431.2 L827.5,432.8 L829.5,435.0 L831.5,433.8 L833.5,432.3 L835.5,435.1 L837.5,435.2 L839.5,434.6 L841.5,434.4 L843.5,434.9 L845.5,434.2 L847.5,434.5 L849.5,432.5 L851.5,435.4 L851.8,433.8" fill="none" stroke="#c04a9e" stroke-width="4.0" stroke-linejoin="round"/>
<path d="M137.5,519.5 L139.5,520.1 L141.5,522.5 L143.5,521.1 L145.5,518.1 L147.5,520.2 L149.5,519.4 L151.5,520.4 L153.5,518.0 L155.5,520.4 L157.5,520.4 L159.5,522.1 L161.5,520.4 L163.5,520.6 L165.5,517.9 L167.5,522.7 L169.5,517.2 L171.5,521.1 L173.5,519.1 L175.5,518.3 L177.5,518.6 L179.5,518.5 L181.5,519.7 L182.8,519.1 L183.5,521.1 L185.5,516.7 L187.5,518.9 L189.5,517.6 L191.5,519.6 L193.5,515.6 L195.5,517.7 L197.5,518.2 L199.5,515.7 L201.5,518.7 L203.5,517.4 L205.5,518.2 L205.7,518.1 L207.5,515.4 L209.5,515.3 L211.5,515.8 L213.5,516.7 L215.5,516.4 L217.5,514.0 L219.5,513.8 L221.5,513.1 L223.5,513.0 L225.5,513.1 L227.5,513.0 L229.5,515.5 L231.5,512.0 L233.5,512.1 L235.5,512.9 L237.5,511.1 L237.7,511.8 L239.5,512.4 L241.5,513.6 L243.5,511.2 L245.5,515.2 L247.5,513.4 L249.5,514.6 L251.5,516.1 L253.5,516.4 L255.5,517.4 L257.5,516.7 L259.5,516.7 L261.5,517.4 L262.9,515.7 L263.5,518.6 L265.5,516.0 L267.5,515.4 L269.5,519.7 L271.5,516.8 L273.5,515.5 L275.5,519.4 L277.5,516.6 L279.5,518.4 L281.5,515.9 L283.5,516.7 L285.5,514.8 L285.7,514.5 L287.5,515.6 L289.5,516.4 L291.5,517.0 L293.5,518.3 L295.5,512.9 L297.5,514.6 L299.5,511.4 L301.5,510.9 L303.5,508.1 L305.5,507.1 L307.5,507.1 L308.6,506.1 L309.5,507.3 L311.5,505.6 L313.5,507.4 L315.5,505.1 L317.5,504.3 L319.5,504.8 L321.5,503.2 L323.5,501.8 L325.5,501.0 L327.5,500.4 L329.5,501.5 L330.0,501.0 L331.5,500.2 L333.5,500.3 L335.5,498.2 L337.5,499.2 L339.5,496.3 L341.5,499.6 L343.5,497.8 L345.5,497.8 L347.2,498.3 L347.5,497.5 L349.5,497.2 L351.5,499.2 L353.5,497.9 L355.5,496.7 L357.5,498.7 L359.5,496.4 L361.5,500.5 L363.5,498.9 L364.3,499.2 L365.5,501.8 L367.5,502.8 L369.5,502.6 L371.5,504.7 L372.9,506.0 L373.5,506.8 L375.5,506.7 L377.5,508.0 L379.5,509.7 L381.5,510.5 L383.5,512.5 L385.5,514.5 L387.5,516.2 L389.5,518.0 L391.5,518.5 L391.8,518.9 L393.5,519.2 L395.5,518.6 L397.5,518.8 L399.5,518.5 L400.4,518.1 L401.5,517.5 L403.5,515.0 L405.5,511.3 L407.2,508.5 L407.5,508.1 L409.5,505.2 L411.5,502.1 L413.5,498.6 L415.5,495.6 L415.8,494.7 L417.5,491.9 L419.5,488.2 L421.5,484.4 L423.5,480.9 L424.4,479.6 L425.5,477.8 L427.5,474.9 L429.5,472.4 L431.5,470.1 L433.5,467.5 L435.5,465.5 L436.4,464.0 L437.5,462.1 L439.5,460.2 L441.5,458.2 L443.5,455.6 L445.5,453.2 L446.7,451.8 L447.5,451.4 L449.5,449.3 L451.5,447.3 L453.5,445.3 L455.5,443.6 L457.0,441.9 L457.5,440.9 L459.5,439.0 L461.5,436.4 L463.5,433.8 L465.5,431.7 L467.5,429.5 L468.1,428.3 L469.5,428.0 L471.5,426.4 L473.5,424.7 L475.5,423.3 L477.5,422.2 L479.5,420.6 L480.0,420.6 L481.5,419.5 L483.5,418.2 L485.5,416.8 L487.5,415.7 L489.5,414.8 L491.5,413.6 L492.1,413.0 L493.5,411.9 L495.5,410.4 L497.5,409.3 L499.5,408.0 L501.5,406.0 L503.5,405.2 L503.7,404.4 L505.5,403.6 L507.5,402.6 L509.5,401.0 L511.3,399.8 L511.5,400.0 L513.5,398.7 L515.5,396.9 L517.5,395.5 L519.5,392.9 L521.5,390.9 L523.5,388.1 L524.1,387.3 L525.5,385.9 L527.5,383.6 L528.4,382.6 L529.5,380.0 L531.5,373.2 L532.1,371.3 L533.5,367.7 L535.3,362.8 L535.5,362.2 L537.5,351.3 L538.5,344.0 L539.5,334.9 L540.5,322.1 L541.5,299.0 L542.2,279.8 L543.5,244.2 L544.8,280.2 L545.5,297.0 L546.5,322.3 L547.5,356.6 L548.0,369.9 L549.5,391.1 L551.5,410.1 L551.8,412.4 L553.5,425.8 L555.5,438.7 L557.3,446.7 L557.5,447.4 L559.5,453.4 L561.4,456.3 L561.5,456.3 L563.5,457.7 L565.5,458.5 L566.2,458.6 L567.5,458.5 L569.5,456.8 L571.5,455.6 L572.4,454.9 L573.5,454.8 L575.5,454.2 L577.5,454.1 L579.5,453.5 L581.5,453.0 L583.5,453.1 L584.7,453.0 L585.5,452.9 L587.5,453.1 L589.5,453.4 L591.5,454.8 L593.5,454.9 L595.5,455.9 L597.1,456.1 L597.5,456.3 L599.5,457.4 L601.5,458.6 L603.5,460.2 L605.5,461.3 L607.5,463.1 L609.5,464.6 L610.0,464.4 L611.5,465.7 L613.5,466.4 L615.5,467.8 L617.5,469.1 L618.4,470.0 L619.5,470.3 L621.5,472.3 L623.5,474.4 L625.5,476.1 L627.5,478.6 L629.5,480.6 L631.5,482.8 L633.5,485.1 L635.5,486.9 L637.5,488.9 L639.5,490.2 L641.5,491.8 L643.5,493.0 L645.5,494.3 L647.5,495.8 L649.5,495.9 L651.5,499.0 L652.7,498.3 L653.5,498.5 L655.5,499.8 L657.5,501.8 L659.5,503.2 L661.5,502.6 L663.5,504.0 L665.5,503.8 L666.4,502.9 L667.5,504.1 L669.5,503.8 L671.5,501.8 L673.5,504.7 L675.5,501.0 L677.5,503.0 L679.5,501.0 L680.2,501.2 L681.5,501.1 L683.5,502.5 L685.5,499.5 L687.5,500.3 L689.5,502.0 L691.5,498.5 L693.5,498.8 L695.5,499.1 L697.5,497.1 L699.5,498.0 L701.5,496.3 L703.5,497.9 L704.2,497.1 L705.5,495.8 L707.5,499.0 L709.5,497.1 L711.5,497.1 L713.5,496.5 L715.5,497.3 L717.5,498.1 L719.5,498.7 L721.3,500.1 L721.5,497.0 L723.5,498.5 L725.5,500.8 L727.5,499.8 L729.5,500.4 L731.5,502.3 L733.5,501.0 L735.5,501.5 L737.5,501.3 L739.5,504.0 L741.5,503.5 L742.0,501.3 L743.5,503.3 L745.5,501.6 L747.5,505.1 L749.5,505.3 L751.5,504.9 L753.5,505.3 L755.5,504.2 L757.5,508.1 L759.5,507.6 L761.5,507.9 L763.5,509.6 L765.5,508.1 L766.0,508.2 L767.5,508.2 L769.5,507.5 L771.5,512.6 L773.5,509.4 L775.5,509.3 L777.5,511.1 L779.5,505.9 L781.5,510.1 L783.5,510.3 L785.5,509.1 L787.5,511.0 L789.5,507.9 L791.5,510.6 L793.5,511.7 L795.5,507.7 L797.5,508.7 L799.5,510.4 L800.3,510.6 L801.5,509.8 L803.5,511.0 L805.5,510.9 L807.5,508.8 L809.5,510.4 L811.5,508.9 L813.5,507.8 L815.5,507.4 L817.5,511.8 L819.5,510.3 L821.5,513.0 L823.5,508.6 L825.5,510.0 L827.5,510.9 L829.5,510.3 L831.5,511.1 L833.5,510.7 L835.5,509.7 L837.5,507.5 L839.5,509.3 L841.5,512.7 L843.5,511.5 L845.5,512.3 L847.5,509.7 L849.5,510.3 L851.5,509.4 L851.8,511.0" fill="none" stroke="#0b7e3b" stroke-width="4.0" stroke-linejoin="round"/>
<line x1="544" y1="555.2" x2="544" y2="39.7" stroke="#000" stroke-width="3.8" stroke-dasharray="22.9 22.0" stroke-dashoffset="1.2"/>
<line x1="510.6" y1="159.2" x2="510.6" y2="121.3" stroke="#000" stroke-width="4"/>
<path d="M510.6,100.8 L504.6,124.1 L516.6,124.1 Z" fill="#000" stroke="#000" stroke-width="2.6" stroke-linejoin="round"/>
<line x1="511.2" y1="249.5" x2="511.2" y2="215.4" stroke="#000" stroke-width="4"/>
<path d="M511.2,195.3 L505.0,218.2 L517.4,218.2 Z" fill="#000" stroke="#000" stroke-width="2.6" stroke-linejoin="round"/>
<line x1="514.9" y1="350.4" x2="514.9" y2="312.2" stroke="#000" stroke-width="4"/>
<path d="M514.9,292.3 L508.7,315.0 L521.1,315.0 Z" fill="#000" stroke="#000" stroke-width="2.6" stroke-linejoin="round"/>
<line x1="488.1" y1="477.8" x2="492.8" y2="438.3" stroke="#000" stroke-width="4"/>
<path d="M495.1,418.2 L498.6,441.8 L486.3,440.3 Z" fill="#000" stroke="#000" stroke-width="2.6" stroke-linejoin="round"/>
<path d="M166.8,1173.0 L173.3,1173.6 L179.8,1173.4 L186.4,1172.2 L192.9,1172.1 L199.4,1171.8 L205.9,1172.3 L212.4,1171.8 L219.0,1172.1 L225.5,1170.4 L232.0,1172.2 L238.5,1171.1 L245.0,1171.3 L251.6,1170.3 L258.1,1169.7 L264.6,1169.7 L271.1,1169.0 L277.6,1167.7 L284.2,1166.6 L290.7,1165.5 L297.2,1161.3 L303.7,1158.6 L310.2,1155.8 L316.8,1146.9 L323.3,1137.7 L329.8,1128.6 L336.3,1117.2 L342.8,1104.7 L349.4,1095.2 L355.9,1086.7 L362.4,1077.8 L368.9,1069.5 L375.4,1061.6 L382.0,1054.2 L388.5,1046.5 L395.0,1039.6 L401.5,1032.8 L408.0,1025.9 L414.6,1019.5 L421.1,1013.1 L427.6,1006.7 L434.1,1000.1 L440.6,993.7 L447.2,985.2 L453.7,978.4 L460.2,971.3 L466.7,963.6 L473.2,957.7 L479.8,950.8 L486.3,943.0 L492.8,937.2 L499.3,929.8 L505.8,922.6 L512.4,915.3 L518.9,908.6 L525.4,900.1 L531.9,894.2 L538.4,887.1 L545.0,879.4 L551.5,874.0 L558.0,867.0 L564.5,860.8 L571.0,854.3 L577.6,846.8 L584.1,839.5 L590.6,831.0 L597.1,823.0 L603.6,814.4 L610.2,804.6 L616.7,794.1 L623.2,779.2 L629.7,760.7 L636.2,739.9 L642.8,723.1 L649.3,712.3 L655.8,707.5 L662.3,705.5 L668.8,706.5 L675.4,705.7 L681.9,704.9 L688.4,704.3 L694.9,705.5 L701.4,703.9 L708.0,704.9 L714.5,705.3 L721.0,703.5 L727.5,704.1 L734.0,703.4 L740.6,704.3 L747.1,705.0 L753.6,705.2 L760.1,702.8 L766.6,703.4 L773.2,704.1 L779.7,704.5 L786.2,703.7 L792.7,702.9 L799.2,703.5 L805.8,703.2 L812.3,703.0 L818.8,702.9" fill="none" stroke="#e60012" stroke-width="2.6" stroke-linejoin="round" marker-start="url(#sR)" marker-mid="url(#sR)" marker-end="url(#sR)"/>
<path d="M166.8,1175.0 L173.3,1175.6 L179.8,1175.3 L186.4,1175.3 L192.9,1175.8 L199.4,1174.0 L205.9,1174.3 L212.4,1173.9 L219.0,1174.5 L225.5,1175.2 L232.0,1174.5 L238.5,1174.8 L245.0,1173.3 L251.6,1174.5 L258.1,1173.8 L264.6,1175.3 L271.1,1174.7 L277.6,1174.7 L284.2,1174.1 L290.7,1174.4 L297.2,1174.4 L303.7,1173.6 L310.2,1173.3 L316.8,1173.2 L323.3,1172.7 L329.8,1172.4 L336.3,1172.4 L342.8,1165.7 L349.4,1155.5 L355.9,1137.3 L362.4,1117.8 L368.9,1099.4 L375.4,1085.5 L382.0,1075.5 L388.5,1065.7 L395.0,1057.7 L401.5,1049.1 L408.0,1040.9 L414.6,1032.8 L421.1,1026.2 L427.6,1018.7 L434.1,1011.7 L440.6,1005.3 L447.2,998.0 L453.7,991.3 L460.2,984.2 L466.7,976.6 L473.2,968.6 L479.8,962.4 L486.3,955.9 L492.8,948.2 L499.3,941.6 L505.8,934.9 L512.4,926.9 L518.9,920.9 L525.4,914.0 L531.9,906.6 L538.4,899.6 L545.0,892.5 L551.5,886.1 L558.0,877.7 L564.5,872.3 L571.0,866.5 L577.6,859.8 L584.1,853.6 L590.6,846.4 L597.1,839.6 L603.6,832.5 L610.2,825.0 L616.7,817.8 L623.2,810.5 L629.7,801.9 L636.2,793.1 L642.8,784.0 L649.3,774.0 L655.8,762.4 L662.3,749.1 L668.8,738.1 L675.4,729.2 L681.9,722.6 L688.4,718.3 L694.9,716.1 L701.4,714.5 L708.0,713.3 L714.5,712.4 L721.0,710.2 L727.5,710.4 L734.0,710.6 L740.6,710.3 L747.1,708.5 L753.6,709.2 L760.1,708.3 L766.6,708.0 L773.2,707.8 L779.7,707.7 L786.2,706.0 L792.7,707.0 L799.2,706.1 L805.8,705.3 L812.3,705.2 L818.8,704.7" fill="none" stroke="#e60012" stroke-width="2.6" stroke-linejoin="round" marker-start="url(#sR)" marker-mid="url(#sR)" marker-end="url(#sR)"/>
<path d="M166.8,1182.1 L173.3,1183.3 L179.8,1180.2 L186.4,1183.2 L192.9,1181.5 L199.4,1180.8 L205.9,1180.6 L212.4,1180.3 L219.0,1181.0 L225.5,1181.8 L232.0,1181.5 L238.5,1181.4 L245.0,1179.2 L251.6,1179.2 L258.1,1181.9 L264.6,1181.3 L271.1,1182.3 L277.6,1181.3 L284.2,1179.2 L290.7,1180.2 L297.2,1179.1 L303.7,1177.4 L310.2,1175.7 L316.8,1174.0 L323.3,1171.9 L329.8,1170.3 L336.3,1169.2 L342.8,1169.5 L349.4,1166.9 L355.9,1167.0 L362.4,1166.6 L368.9,1164.9 L375.4,1164.9 L382.0,1164.7 L388.5,1163.0 L395.0,1160.7 L401.5,1156.9 L408.0,1152.0 L414.6,1144.2 L421.1,1134.3 L427.6,1123.9 L434.1,1110.9 L440.6,1089.6 L447.2,1069.0 L453.7,1048.9 L460.2,1029.9 L466.7,1011.1 L473.2,994.2 L479.8,975.4 L486.3,955.7 L492.8,937.4 L499.3,918.6 L505.8,900.3 L512.4,879.1 L518.9,860.8 L525.4,837.4 L531.9,809.3 L538.4,764.3 L545.0,712.3 L551.5,702.7 L558.0,700.8 L564.5,700.4 L571.0,699.5 L577.6,699.3 L584.1,700.2 L590.6,700.2 L597.1,699.1 L603.6,698.9 L610.2,698.6 L616.7,697.9 L623.2,697.6 L629.7,696.9 L636.2,698.1 L642.8,697.2 L649.3,697.0 L655.8,697.2 L662.3,697.5 L668.8,698.3 L675.4,696.8 L681.9,696.6 L688.4,697.2 L694.9,696.2 L701.4,697.3 L708.0,697.6 L714.5,697.1 L721.0,696.2 L727.5,696.7 L734.0,696.8 L740.6,696.1 L747.1,695.2 L753.6,693.7 L760.1,695.3 L766.6,694.6 L773.2,694.0 L779.7,695.5 L786.2,694.9 L792.7,693.2 L799.2,694.3 L805.8,694.0 L812.3,695.0 L818.8,693.5" fill="none" stroke="#2c4297" stroke-width="2.6" stroke-linejoin="round" marker-start="url(#sB)" marker-mid="url(#sB)" marker-end="url(#sB)"/>
<path d="M166.8,1183.6 L173.3,1182.9 L179.8,1182.7 L186.4,1183.3 L192.9,1185.1 L199.4,1182.3 L205.9,1184.6 L212.4,1184.8 L219.0,1183.3 L225.5,1182.9 L232.0,1183.9 L238.5,1184.6 L245.0,1185.4 L251.6,1184.2 L258.1,1184.7 L264.6,1182.9 L271.1,1182.4 L277.6,1181.6 L284.2,1182.1 L290.7,1182.7 L297.2,1183.2 L303.7,1181.8 L310.2,1183.7 L316.8,1182.9 L323.3,1182.4 L329.8,1182.3 L336.3,1184.8 L342.8,1183.2 L349.4,1182.2 L355.9,1182.1 L362.4,1184.7 L368.9,1182.5 L375.4,1184.1 L382.0,1184.3 L388.5,1180.9 L395.0,1184.2 L401.5,1182.8 L408.0,1182.0 L414.6,1182.5 L421.1,1183.0 L427.6,1182.3 L434.1,1181.1 L440.6,1177.5 L447.2,1154.3 L453.7,1103.4 L460.2,1062.5 L466.7,1036.2 L473.2,1015.3 L479.8,996.2 L486.3,976.3 L492.8,957.2 L499.3,937.6 L505.8,918.7 L512.4,899.8 L518.9,879.8 L525.4,864.8 L531.9,847.2 L538.4,826.7 L545.0,807.4 L551.5,787.2 L558.0,768.5 L564.5,758.1 L571.0,747.2 L577.6,734.9 L584.1,727.8 L590.6,723.9 L597.1,719.9 L603.6,717.4 L610.2,716.9 L616.7,716.3 L623.2,714.9 L629.7,714.8 L636.2,712.7 L642.8,711.7 L649.3,710.7 L655.8,709.1 L662.3,709.0 L668.8,708.2 L675.4,706.1 L681.9,707.2 L688.4,706.6 L694.9,706.0 L701.4,704.7 L708.0,702.4 L714.5,705.7 L721.0,703.9 L727.5,701.7 L734.0,703.9 L740.6,702.3 L747.1,703.3 L753.6,702.2 L760.1,702.3 L766.6,702.0 L773.2,701.8 L779.7,701.5 L786.2,702.2 L792.7,699.7 L799.2,701.8 L805.8,701.1 L812.3,699.8 L818.8,700.0" fill="none" stroke="#2c4297" stroke-width="2.6" stroke-linejoin="round" marker-start="url(#sB)" marker-mid="url(#sB)" marker-end="url(#sB)"/>
<path d="M166.8,1171.9 L173.3,1172.1 L179.8,1172.3 L186.4,1171.2 L192.9,1172.4 L199.4,1172.0 L205.9,1172.3 L212.4,1171.9 L219.0,1172.5 L225.5,1171.0 L232.0,1172.8 L238.5,1172.4 L245.0,1171.1 L251.6,1171.9 L258.1,1171.7 L264.6,1170.1 L271.1,1171.7 L277.6,1170.9 L284.2,1171.1 L290.7,1170.8 L297.2,1170.9 L303.7,1171.2 L310.2,1171.1 L316.8,1169.9 L323.3,1170.8 L329.8,1170.0 L336.3,1170.0 L342.8,1170.6 L349.4,1171.4 L355.9,1171.2 L362.4,1170.3 L368.9,1170.2 L375.4,1170.1 L382.0,1170.7 L388.5,1171.2 L395.0,1170.5 L401.5,1170.5 L408.0,1169.9 L414.6,1170.1 L421.1,1167.9 L427.6,1165.6 L434.1,1165.8 L440.6,1163.0 L447.2,1160.4 L453.7,1157.9 L460.2,1155.7 L466.7,1152.5 L473.2,1147.9 L479.8,1137.0 L486.3,1100.1 L492.8,725.4 L499.3,711.2 L505.8,709.4 L512.4,711.0 L518.9,708.8 L525.4,710.0 L531.9,708.8 L538.4,709.0 L545.0,709.4 L551.5,707.8 L558.0,707.9 L564.5,707.5 L571.0,707.6 L577.6,707.2 L584.1,707.8 L590.6,706.6 L597.1,707.6 L603.6,707.9 L610.2,706.7 L616.7,708.1 L623.2,708.2 L629.7,707.0 L636.2,705.7 L642.8,705.4 L649.3,706.4 L655.8,707.7 L662.3,706.8 L668.8,706.8 L675.4,706.1 L681.9,705.7 L688.4,706.4 L694.9,705.3 L701.4,705.9 L708.0,706.3 L714.5,705.9 L721.0,706.2 L727.5,705.5 L734.0,706.1 L740.6,705.9 L747.1,704.5 L753.6,704.8 L760.1,705.0 L766.6,705.9 L773.2,705.6 L779.7,705.5 L786.2,705.4 L792.7,705.7 L799.2,705.8 L805.8,704.7 L812.3,704.0 L818.8,705.2" fill="none" stroke="#c04a9e" stroke-width="2.6" stroke-linejoin="round" marker-start="url(#sM)" marker-mid="url(#sM)" marker-end="url(#sM)"/>
<path d="M166.8,1172.7 L173.3,1173.0 L179.8,1172.3 L186.4,1172.7 L192.9,1171.8 L199.4,1170.9 L205.9,1173.2 L212.4,1172.3 L219.0,1170.5 L225.5,1171.1 L232.0,1171.4 L238.5,1172.0 L245.0,1172.6 L251.6,1171.8 L258.1,1171.2 L264.6,1171.8 L271.1,1171.2 L277.6,1171.4 L284.2,1170.7 L290.7,1170.3 L297.2,1172.0 L303.7,1170.8 L310.2,1171.0 L316.8,1170.4 L323.3,1170.4 L329.8,1170.5 L336.3,1171.1 L342.8,1171.4 L349.4,1170.9 L355.9,1170.0 L362.4,1172.3 L368.9,1170.9 L375.4,1170.9 L382.0,1169.8 L388.5,1169.9 L395.0,1170.4 L401.5,1168.7 L408.0,1169.3 L414.6,1170.1 L421.1,1171.4 L427.6,1169.9 L434.1,1168.8 L440.6,1168.6 L447.2,1170.1 L453.7,1168.8 L460.2,1169.0 L466.7,1170.6 L473.2,1169.2 L479.8,1168.8 L486.3,1168.8 L492.8,1169.3 L499.3,1059.1 L505.8,759.5 L512.4,738.4 L518.9,730.0 L525.4,725.2 L531.9,722.1 L538.4,719.4 L545.0,717.0 L551.5,714.2 L558.0,712.3 L564.5,711.2 L571.0,710.6 L577.6,709.7 L584.1,709.0 L590.6,707.9 L597.1,707.4 L603.6,706.7 L610.2,708.2 L616.7,708.1 L623.2,707.7 L629.7,707.9 L636.2,707.5 L642.8,706.8 L649.3,707.4 L655.8,706.9 L662.3,706.9 L668.8,705.5 L675.4,706.5 L681.9,707.0 L688.4,706.4 L694.9,706.0 L701.4,706.1 L708.0,705.9 L714.5,707.3 L721.0,705.9 L727.5,707.0 L734.0,705.9 L740.6,706.9 L747.1,705.7 L753.6,706.3 L760.1,706.4 L766.6,706.4 L773.2,705.2 L779.7,705.6 L786.2,705.2 L792.7,705.6 L799.2,705.4 L805.8,705.4 L812.3,706.0 L818.8,705.3" fill="none" stroke="#c04a9e" stroke-width="2.6" stroke-linejoin="round" marker-start="url(#sM)" marker-mid="url(#sM)" marker-end="url(#sM)"/>
<path d="M166.8,1143.0 L173.3,1144.7 L179.8,1145.2 L186.4,1146.8 L192.9,1140.6 L199.4,1140.2 L205.9,1146.9 L212.4,1142.2 L219.0,1148.8 L225.5,1141.3 L232.0,1142.3 L238.5,1145.8 L245.0,1144.4 L251.6,1145.4 L258.1,1142.7 L264.6,1142.7 L271.1,1144.3 L277.6,1142.0 L284.2,1146.5 L290.7,1143.2 L297.2,1138.8 L303.7,1147.0 L310.2,1146.8 L316.8,1143.1 L323.3,1142.9 L329.8,1144.2 L336.3,1130.3 L342.8,1138.4 L349.4,1144.7 L355.9,1140.9 L362.4,1143.7 L368.9,1141.2 L375.4,1135.7 L382.0,1142.9 L388.5,1141.3 L395.0,1142.3 L401.5,1138.0 L408.0,1138.8 L414.6,1138.2 L421.1,1138.3 L427.6,1138.4 L434.1,1136.9 L440.6,1136.9 L447.2,1133.1 L453.7,1130.6 L460.2,1131.5 L466.7,1129.9 L473.2,1126.8 L479.8,1123.2 L486.3,1105.4 L492.8,753.3 L499.3,751.9 L505.8,748.5 L512.4,749.6 L518.9,746.4 L525.4,748.2 L531.9,744.7 L538.4,750.5 L545.0,743.8 L551.5,747.2 L558.0,743.2 L564.5,744.6 L571.0,735.8 L577.6,746.6 L584.1,745.6 L590.6,742.6 L597.1,744.7 L603.6,737.9 L610.2,744.0 L616.7,740.2 L623.2,736.9 L629.7,736.6 L636.2,736.0 L642.8,732.1 L649.3,736.3 L655.8,737.6 L662.3,736.9 L668.8,738.8 L675.4,734.4 L681.9,725.6 L688.4,729.8 L694.9,735.9 L701.4,733.3 L708.0,735.4 L714.5,725.7 L721.0,731.2 L727.5,737.4 L734.0,734.2 L740.6,733.7 L747.1,734.1 L753.6,727.4 L760.1,731.1 L766.6,731.7 L773.2,730.7 L779.7,732.2 L786.2,724.3 L792.7,733.7 L799.2,735.7 L805.8,733.3 L812.3,730.2 L818.8,733.4" fill="none" stroke="#0b7e3b" stroke-width="2.6" stroke-linejoin="round" marker-start="url(#sG)" marker-mid="url(#sG)" marker-end="url(#sG)"/>
<path d="M166.8,1154.2 L173.3,1151.2 L179.8,1164.3 L186.4,1153.0 L192.9,1151.5 L199.4,1155.9 L205.9,1156.8 L212.4,1151.4 L219.0,1151.1 L225.5,1153.5 L232.0,1151.7 L238.5,1153.1 L245.0,1152.5 L251.6,1154.4 L258.1,1154.6 L264.6,1152.3 L271.1,1151.1 L277.6,1156.3 L284.2,1151.0 L290.7,1155.0 L297.2,1154.6 L303.7,1153.7 L310.2,1153.7 L316.8,1153.6 L323.3,1153.2 L329.8,1154.7 L336.3,1152.0 L342.8,1151.1 L349.4,1156.9 L355.9,1155.4 L362.4,1151.8 L368.9,1154.3 L375.4,1161.0 L382.0,1154.9 L388.5,1149.1 L395.0,1150.0 L401.5,1152.4 L408.0,1153.0 L414.6,1150.4 L421.1,1148.1 L427.6,1138.4 L434.1,1148.0 L440.6,1145.6 L447.2,1142.5 L453.7,1145.1 L460.2,1145.5 L466.7,1141.5 L473.2,1140.9 L479.8,1137.8 L486.3,1140.6 L492.8,1134.8 L499.3,1132.5 L505.8,778.3 L512.4,765.9 L518.9,765.4 L525.4,762.9 L531.9,761.5 L538.4,760.6 L545.0,757.5 L551.5,754.4 L558.0,753.3 L564.5,752.1 L571.0,752.1 L577.6,754.3 L584.1,752.7 L590.6,749.5 L597.1,750.9 L603.6,750.9 L610.2,754.2 L616.7,746.7 L623.2,749.7 L629.7,750.9 L636.2,752.2 L642.8,746.2 L649.3,746.8 L655.8,740.7 L662.3,744.9 L668.8,749.8 L675.4,755.3 L681.9,744.6 L688.4,747.9 L694.9,746.0 L701.4,746.9 L708.0,749.8 L714.5,746.5 L721.0,742.3 L727.5,746.6 L734.0,752.2 L740.6,744.1 L747.1,752.4 L753.6,748.8 L760.1,749.0 L766.6,746.0 L773.2,744.6 L779.7,745.1 L786.2,742.8 L792.7,750.5 L799.2,745.9 L805.8,749.6 L812.3,745.0 L818.8,746.4" fill="none" stroke="#0b7e3b" stroke-width="2.6" stroke-linejoin="round" marker-start="url(#sG)" marker-mid="url(#sG)" marker-end="url(#sG)"/>
<path d="M173.5,1722.5 L180.4,1722.9 L187.3,1723.1 L194.3,1725.0 L201.2,1725.6 L208.1,1725.2 L214.9,1726.5 L221.8,1729.3 L228.7,1727.5 L235.5,1728.2 L242.4,1727.7 L249.3,1726.5 L256.1,1726.0 L263.0,1727.5 L269.9,1725.2 L276.7,1724.9 L283.6,1725.6 L290.5,1725.2 L297.3,1723.5 L304.1,1723.8 L311.0,1721.3 L317.9,1722.5 L324.7,1720.7 L330.8,1717.1 L336.8,1717.4 L342.9,1715.8 L348.9,1716.3 L355.0,1715.0 L361.8,1700.9 L367.3,1696.5 L372.8,1696.5 L378.3,1692.7 L385.2,1688.2 L392.0,1686.9 L398.9,1682.4 L405.1,1679.3 L411.2,1677.3 L417.4,1674.4 L423.6,1670.0 L429.4,1665.0 L435.2,1661.5 L441.0,1657.0 L447.3,1652.2 L453.7,1645.8 L460.0,1640.0 L466.5,1635.4 L473.0,1628.0 L481.0,1621.0 L487.4,1614.7 L493.5,1606.5 L500.4,1572.2 L507.1,1534.9 L513.9,1529.2 L519.6,1525.8 L526.5,1522.3 L532.2,1518.9 L539.1,1515.5 L546.7,1513.4 L554.2,1508.2 L561.8,1505.0 L568.7,1501.0 L575.5,1500.9 L582.4,1498.9 L588.6,1498.9 L594.8,1495.5 L600.9,1493.8 L607.1,1492.7 L614.3,1491.0 L621.5,1490.8 L628.7,1490.5 L635.9,1487.7 L643.1,1484.1 L650.3,1485.5 L657.5,1482.5 L664.7,1481.6 L671.9,1478.9 L679.2,1480.6 L686.4,1478.2 L693.6,1477.4 L699.8,1475.5 L706.0,1474.9 L712.1,1472.7 L718.3,1472.5 L725.5,1472.8 L732.7,1471.0 L739.9,1473.5 L747.1,1471.0 L754.0,1471.7 L760.8,1470.7 L767.7,1471.1 L774.6,1470.2 L781.4,1472.1 L788.3,1471.5 L794.8,1472.6 L801.4,1470.3 L807.9,1472.9 L814.4,1473.9 L821.0,1474.6 L827.5,1474.0" fill="none" stroke="#e60012" stroke-width="2.4" stroke-linejoin="round" marker-start="url(#oR)" marker-mid="url(#oR)" marker-end="url(#oR)"/>
<path d="M173.5,1723.0 L180.4,1722.2 L187.3,1725.3 L194.3,1724.3 L201.2,1725.6 L208.1,1726.2 L214.9,1725.3 L221.8,1729.1 L228.7,1725.9 L235.5,1727.5 L242.4,1727.7 L249.3,1727.0 L256.1,1729.4 L263.0,1727.0 L269.9,1725.2 L276.7,1725.5 L283.6,1725.6 L290.5,1723.9 L297.3,1722.9 L304.1,1723.0 L311.0,1720.8 L317.9,1722.3 L324.7,1720.7 L331.3,1717.2 L337.9,1717.8 L344.5,1717.1 L351.1,1715.3 L357.7,1713.3 L364.3,1714.5 L370.9,1711.9 L377.4,1711.9 L384.0,1709.3 L390.6,1709.1 L397.2,1709.9 L403.8,1704.0 L410.4,1705.8 L417.0,1703.3 L423.6,1703.0 L429.1,1700.6 L434.5,1695.3 L440.0,1693.0 L447.0,1691.6 L454.0,1690.3 L460.8,1687.7 L467.5,1684.1 L474.4,1679.3 L481.2,1676.5 L487.4,1673.8 L493.5,1671.0 L500.4,1666.9 L505.9,1599.0 L512.1,1590.7 L518.3,1581.8 L526.5,1574.9 L533.4,1569.4 L539.3,1564.0 L545.3,1559.2 L551.2,1553.0 L556.7,1547.5 L562.5,1544.0 L568.3,1540.5 L574.1,1538.0 L581.0,1534.6 L587.8,1533.2 L594.7,1527.7 L601.6,1523.4 L608.4,1521.9 L615.3,1517.4 L620.8,1511.7 L626.3,1509.5 L631.8,1507.1 L638.0,1503.0 L644.2,1494.7 L650.4,1490.7 L656.5,1486.5 L663.4,1485.4 L670.2,1482.1 L677.1,1480.3 L684.3,1479.7 L691.5,1476.8 L698.7,1476.4 L705.9,1476.5 L712.8,1477.6 L719.6,1477.2 L726.5,1477.2 L733.3,1475.9 L740.1,1479.6 L747.0,1478.0 L753.8,1479.5 L760.7,1477.7 L767.5,1478.3 L774.3,1476.4 L781.2,1478.5 L788.0,1477.5 L794.6,1478.0 L801.2,1477.8 L807.8,1476.3 L814.3,1477.9 L820.9,1477.5 L827.5,1479.5" fill="none" stroke="#e60012" stroke-width="2.4" stroke-linejoin="round" marker-start="url(#oR)" marker-mid="url(#oR)" marker-end="url(#oR)"/>
<path d="M173.5,1789.5 L180.6,1795.6 L187.5,1797.4 L194.3,1799.2 L201.2,1801.8 L208.1,1802.0 L214.9,1800.8 L221.8,1801.8 L228.7,1803.1 L235.5,1802.3 L242.4,1801.8 L249.3,1802.0 L256.1,1800.2 L263.0,1799.8 L269.9,1801.2 L276.7,1798.1 L283.6,1797.7 L290.5,1795.8 L297.3,1795.7 L304.2,1793.6 L311.0,1790.1 L317.9,1788.7 L324.7,1787.4 L330.9,1784.9 L337.1,1781.2 L343.3,1775.2 L349.5,1770.9 L355.6,1765.8 L361.8,1764.7 L368.0,1760.5 L374.2,1756.5 L380.4,1753.2 L386.5,1748.3 L391.6,1744.0 L396.8,1740.0 L402.0,1735.8 L407.1,1729.7 L415.4,1719.4 L423.6,1705.0 L428.8,1698.3 L433.9,1692.7 L441.4,1681.3 L446.2,1669.7 L453.0,1660.0 L459.9,1651.1 L466.8,1640.8 L472.3,1628.5 L479.1,1617.5 L486.0,1603.8 L492.5,1581.0 L499.0,1558.4 L505.2,1522.7 L511.6,1513.2 L518.5,1506.3 L524.2,1498.3 L531.1,1490.3 L537.9,1482.3 L545.3,1474.0 L552.0,1470.5 L558.5,1466.8 L564.7,1461.0 L570.9,1455.5 L577.1,1451.3 L584.3,1447.2 L590.5,1443.1 L596.6,1438.0 L603.8,1433.8 L610.0,1431.8 L616.2,1429.7 L622.4,1426.6 L629.6,1424.0 L636.8,1422.5 L643.0,1420.5 L648.1,1416.3 L654.3,1413.3 L660.5,1412.8 L666.8,1411.9 L673.0,1410.4 L679.6,1408.2 L686.2,1406.4 L692.7,1404.9 L699.3,1403.6 L705.9,1401.0 L712.8,1399.7 L719.6,1399.9 L726.5,1399.1 L733.4,1399.0 L740.2,1398.7 L747.1,1398.0 L754.0,1398.7 L760.8,1397.6 L767.7,1397.7 L774.6,1398.2 L781.4,1398.9 L788.3,1399.0 L795.0,1399.4 L801.6,1400.0 L808.3,1402.8 L815.0,1402.0 L821.2,1402.3 L827.5,1405.0" fill="none" stroke="#2c4297" stroke-width="2.4" stroke-linejoin="round" marker-start="url(#oB)" marker-mid="url(#oB)" marker-end="url(#oB)"/>
<path d="M173.5,1790.0 L180.4,1790.1 L187.3,1793.1 L194.3,1795.3 L201.2,1797.0 L208.1,1798.4 L214.9,1797.1 L221.8,1798.4 L228.7,1798.8 L235.5,1799.3 L242.4,1800.0 L249.3,1799.0 L256.1,1799.5 L263.0,1799.0 L269.9,1798.7 L276.7,1798.2 L283.6,1797.7 L290.5,1795.8 L297.3,1792.3 L304.1,1792.6 L311.0,1792.0 L317.9,1787.1 L324.7,1787.4 L330.2,1787.5 L335.7,1783.6 L341.2,1783.3 L346.7,1781.8 L352.2,1783.0 L357.7,1781.2 L363.2,1779.3 L368.7,1776.7 L374.2,1775.0 L379.7,1771.9 L385.1,1770.3 L390.6,1768.9 L396.1,1767.9 L401.6,1765.1 L407.1,1762.7 L413.3,1758.8 L419.5,1754.4 L425.6,1749.1 L431.8,1746.2 L438.0,1742.4 L444.2,1738.0 L449.4,1732.4 L454.5,1729.7 L459.6,1725.3 L464.8,1719.4 L473.0,1709.1 L478.4,1698.5 L485.3,1692.3 L492.2,1683.4 L499.0,1675.2 L505.2,1620.9 L511.7,1605.0 L518.3,1589.3 L525.1,1577.7 L531.0,1566.0 L537.5,1556.4 L544.4,1546.1 L551.2,1536.5 L556.5,1523.4 L563.7,1513.1 L570.9,1502.8 L577.1,1493.6 L583.2,1483.3 L590.5,1474.0 L596.6,1467.8 L602.8,1461.6 L610.0,1455.5 L616.2,1451.3 L623.4,1443.1 L629.6,1442.1 L635.8,1433.8 L643.0,1435.9 L649.1,1426.6 L655.3,1432.8 L661.5,1423.5 L668.7,1418.4 L674.9,1414.3 L682.5,1412.8 L690.1,1411.6 L697.7,1409.3 L704.9,1409.5 L712.1,1405.6 L719.3,1406.8 L726.5,1406.0 L733.2,1405.6 L739.9,1405.6 L746.6,1405.0 L753.3,1406.1 L760.0,1405.5 L766.7,1404.9 L773.3,1406.1 L780.0,1405.0 L786.7,1404.9 L793.3,1404.8 L800.0,1406.0 L806.9,1405.5 L813.8,1407.5 L820.6,1409.1 L827.5,1409.5" fill="none" stroke="#2c4297" stroke-width="2.4" stroke-linejoin="round" marker-start="url(#oB)" marker-mid="url(#oB)" marker-end="url(#oB)"/>
<path d="M177.2,1661.3 L183.5,1666.5 L190.0,1668.5 L196.5,1666.5 L203.0,1668.0 L209.5,1668.0 L216.0,1666.5 L222.5,1670.0 L229.3,1664.7 L236.0,1667.3 L242.4,1663.3 L249.2,1657.2 L255.8,1658.5 L262.3,1653.0 L268.8,1657.2 L275.3,1646.2 L281.5,1644.6 L287.7,1643.2 L295.0,1647.0 L304.2,1641.2 L309.3,1643.4 L314.4,1641.2 L320.5,1646.0 L328.9,1635.0 L335.0,1632.9 L341.2,1633.0 L347.4,1631.2 L353.6,1630.9 L359.8,1632.4 L365.9,1626.8 L372.1,1626.4 L378.3,1622.7 L385.5,1621.2 L392.6,1620.7 L399.5,1619.9 L406.4,1616.2 L412.7,1613.7 L419.0,1611.6 L425.2,1610.6 L431.5,1609.3 L437.8,1607.2 L444.1,1603.6 L451.0,1601.7 L457.8,1604.4 L464.7,1605.1 L470.9,1595.5 L477.1,1598.3 L483.9,1594.1 L490.8,1591.4 L497.0,1587.3 L503.2,1588.0 L510.0,1577.7 L516.9,1577.7 L523.1,1570.1 L529.2,1567.4 L536.1,1562.6 L543.0,1561.2 L549.8,1557.8 L556.0,1553.0 L561.8,1546.2 L568.7,1541.0 L575.5,1540.6 L582.4,1538.0 L589.3,1540.7 L596.1,1536.2 L603.0,1531.8 L609.9,1528.8 L616.7,1523.1 L623.6,1525.6 L629.1,1527.3 L634.5,1520.8 L640.0,1519.5 L646.0,1517.1 L652.0,1514.0 L658.0,1518.0 L667.2,1509.4 L673.4,1524.9 L679.6,1508.4 L686.8,1510.5 L692.9,1512.5 L699.1,1515.6 L705.3,1509.4 L712.5,1513.5 L718.7,1512.5 L724.9,1508.4 L732.1,1517.7 L738.3,1510.5 L744.4,1514.0 L751.6,1504.3 L757.8,1515.6 L764.0,1516.0 L771.2,1509.0 L777.4,1519.7 L783.6,1512.5 L790.8,1520.7 L797.0,1514.6 L804.2,1515.2 L810.3,1521.8 L816.5,1521.8 L822.7,1526.9 L829.9,1536.2" fill="none" stroke="#c04a9e" stroke-width="2.4" stroke-linejoin="round" marker-start="url(#oM)" marker-mid="url(#oM)" marker-end="url(#oM)"/>
<path d="M177.2,1661.3 L184.0,1671.6 L190.9,1675.7 L197.0,1672.5 L203.2,1678.4 L210.1,1670.9 L216.3,1670.9 L223.2,1673.0 L230.0,1673.6 L236.2,1676.4 L243.1,1673.0 L249.2,1675.0 L256.1,1679.1 L262.3,1673.0 L269.2,1678.4 L275.3,1677.7 L281.5,1681.5 L287.7,1684.4 L293.9,1685.9 L300.0,1686.5 L306.2,1683.5 L312.4,1686.5 L318.5,1685.2 L324.7,1684.4 L331.0,1680.0 L336.1,1677.0 L341.2,1670.0 L350.0,1676.0 L355.9,1671.8 L361.8,1672.1 L366.9,1675.2 L372.0,1676.0 L379.2,1669.2 L386.5,1665.9 L392.7,1662.8 L398.9,1663.8 L405.0,1664.2 L411.2,1661.8 L417.4,1656.5 L423.6,1657.7 L429.8,1654.4 L435.9,1653.5 L440.0,1651.8 L445.5,1649.1 L451.7,1645.0 L457.8,1640.8 L464.7,1636.7 L470.9,1633.3 L477.1,1629.8 L483.9,1625.7 L490.8,1620.9 L497.0,1620.2 L503.2,1612.7 L510.0,1605.1 L516.2,1605.1 L523.1,1602.4 L529.2,1603.1 L536.1,1597.6 L542.3,1598.3 L548.5,1592.8 L555.3,1590.0 L561.8,1587.4 L568.7,1589.0 L575.5,1585.1 L582.4,1585.4 L588.6,1580.2 L594.8,1580.1 L600.9,1580.6 L607.1,1579.2 L613.3,1579.7 L619.5,1573.2 L625.6,1574.5 L631.8,1573.0 L638.0,1571.6 L644.1,1572.2 L650.3,1569.2 L656.5,1566.8 L666.2,1558.8 L672.5,1559.5 L679.0,1557.0 L685.7,1556.8 L692.5,1557.0 L699.1,1554.7 L705.5,1555.5 L712.5,1550.6 L719.0,1550.5 L725.9,1546.5 L732.0,1546.5 L738.3,1542.0 L744.4,1549.6 L751.6,1545.5 L757.8,1544.5 L764.0,1540.3 L771.2,1537.8 L777.4,1536.6 L783.6,1533.1 L790.8,1531.0 L797.5,1531.0 L804.2,1532.1 L810.3,1527.0 L816.5,1524.0 L822.7,1527.0 L829.9,1530.0" fill="none" stroke="#c04a9e" stroke-width="2.4" stroke-linejoin="round" marker-start="url(#oM)" marker-mid="url(#oM)" marker-end="url(#oM)"/>
<path d="M169.3,1777.1 L176.5,1789.4 L182.7,1770.9 L188.8,1777.1 L196.0,1787.4 L202.2,1788.4 L208.4,1779.1 L214.6,1773.0 L221.8,1773.0 L228.0,1758.5 L235.2,1762.7 L241.3,1744.1 L247.5,1751.3 L254.7,1749.3 L260.9,1731.8 L267.1,1735.9 L275.3,1723.6 L281.5,1723.6 L287.7,1709.1 L293.9,1723.6 L300.0,1723.6 L306.2,1713.3 L314.4,1698.8 L320.6,1700.9 L326.8,1694.7 L335.0,1692.7 L343.3,1688.6 L349.5,1686.5 L351.5,1668.0 L359.8,1680.3 L365.9,1665.9 L372.1,1663.8 L378.3,1665.9 L384.5,1653.5 L390.6,1651.5 L398.9,1645.3 L407.1,1641.2 L415.4,1641.2 L423.6,1624.7 L431.8,1616.5 L437.3,1610.4 L443.4,1600.3 L450.3,1607.2 L456.5,1587.3 L463.3,1596.9 L469.5,1578.4 L475.7,1579.0 L482.6,1558.4 L488.7,1565.3 L495.6,1550.2 L502.5,1543.3 L508.7,1530.3 L515.1,1520.0 L521.9,1515.5 L528.8,1501.7 L535.7,1489.2 L545.3,1476.2 L551.5,1467.7 L557.7,1463.9 L565.9,1443.3 L572.1,1441.7 L578.3,1433.0 L586.5,1420.6 L594.7,1420.6 L600.9,1419.5 L607.1,1418.5 L613.3,1410.3 L618.5,1411.3 L623.6,1414.4 L631.8,1412.4 L638.0,1413.3 L644.2,1416.5 L652.4,1408.3 L658.6,1416.5 L664.7,1406.2 L670.9,1375.3 L677.1,1410.3 L685.3,1373.2 L691.5,1414.4 L697.7,1373.2 L703.9,1420.6 L710.0,1391.8 L716.2,1373.2 L722.4,1381.5 L730.6,1385.6 L736.1,1382.9 L741.6,1383.2 L747.1,1381.5 L755.4,1377.4 L763.6,1385.6 L771.8,1387.0 L780.1,1395.9 L788.3,1426.8 L796.5,1420.6 L804.8,1430.9 L813.0,1441.2 L821.2,1449.4" fill="none" stroke="#0b7e3b" stroke-width="2.4" stroke-linejoin="round" marker-start="url(#oG)" marker-mid="url(#oG)" marker-end="url(#oG)"/>
<path d="M169.3,1777.1 L175.4,1808.0 L182.7,1796.6 L188.8,1787.4 L196.0,1806.9 L202.2,1790.0 L208.4,1793.0 L215.6,1792.5 L221.8,1796.6 L228.0,1799.7 L235.2,1802.8 L241.3,1805.9 L247.5,1814.1 L254.7,1805.9 L260.9,1811.0 L267.1,1823.4 L274.3,1830.6 L280.5,1828.6 L286.6,1779.1 L293.9,1833.7 L300.0,1785.3 L306.2,1833.7 L313.4,1795.6 L319.6,1834.7 L325.8,1798.7 L333.0,1795.6 L339.2,1789.4 L344.4,1790.9 L349.5,1793.6 L357.7,1795.6 L365.9,1793.6 L371.0,1788.1 L376.2,1791.5 L382.4,1788.0 L388.6,1785.3 L393.8,1785.0 L398.9,1781.2 L404.0,1779.5 L409.2,1777.1 L417.4,1766.8 L422.5,1757.2 L427.7,1748.3 L435.9,1746.2 L442.1,1713.3 L450.4,1707.1 L456.5,1711.2 L462.7,1700.9 L469.5,1691.6 L476.4,1683.4 L482.6,1667.6 L488.7,1662.8 L495.6,1649.8 L502.5,1642.9 L508.7,1642.2 L515.5,1621.6 L521.7,1621.6 L528.6,1612.7 L534.7,1612.0 L541.6,1607.2 L547.8,1601.7 L554.0,1590.7 L559.5,1588.7 L565.9,1585.4 L574.1,1568.9 L580.3,1570.0 L586.5,1552.4 L594.0,1562.0 L600.9,1548.3 L607.1,1544.2 L615.3,1533.9 L623.6,1527.7 L631.8,1531.8 L640.0,1513.3 L648.0,1513.0 L656.5,1505.0 L664.7,1496.8 L673.0,1492.7 L679.2,1480.3 L685.3,1486.5 L691.5,1480.3 L697.7,1472.6 L703.9,1470.0 L710.0,1472.0 L716.2,1453.6 L724.4,1453.6 L730.6,1441.2 L736.8,1439.3 L743.0,1437.1 L749.2,1428.8 L755.4,1402.1 L763.6,1404.0 L771.8,1400.0 L780.1,1393.8 L788.3,1377.4 L796.5,1383.5 L802.7,1365.0 L808.9,1348.5 L815.1,1360.9 L821.2,1371.2" fill="none" stroke="#0b7e3b" stroke-width="2.4" stroke-linejoin="round" marker-start="url(#oG)" marker-mid="url(#oG)" marker-end="url(#oG)"/>
<path d="M225.1,760.2 L261.9,760.2 L299.2,760.2" stroke="#e60012" stroke-width="3" fill="none" marker-mid="url(#sR)"/>
<text x="309" y="769.3" font-size="34" text-anchor="start" fill="#000" textLength="64.3" lengthAdjust="spacingAndGlyphs" >85.5</text>
<text x="389.6" y="769.3" font-size="34" text-anchor="start" fill="#000" textLength="49" lengthAdjust="spacingAndGlyphs" >nm</text>
<path d="M225.1,799.2 L261.9,799.2 L299.2,799.2" stroke="#2c4297" stroke-width="3" fill="none" marker-mid="url(#sB)"/>
<text x="309" y="808.3" font-size="34" text-anchor="start" fill="#000" textLength="64.3" lengthAdjust="spacingAndGlyphs" >53.4</text>
<text x="389.6" y="808.3" font-size="34" text-anchor="start" fill="#000" textLength="49" lengthAdjust="spacingAndGlyphs" >nm</text>
<path d="M225.1,838.2 L261.9,838.2 L299.2,838.2" stroke="#c04a9e" stroke-width="3" fill="none" marker-mid="url(#sM)"/>
<text x="309" y="847.3" font-size="34" text-anchor="start" fill="#000" textLength="64.3" lengthAdjust="spacingAndGlyphs" >24.0</text>
<text x="389.6" y="847.3" font-size="34" text-anchor="start" fill="#000" textLength="49" lengthAdjust="spacingAndGlyphs" >nm</text>
<path d="M225.1,877.2 L261.9,877.2 L299.2,877.2" stroke="#0b7e3b" stroke-width="3" fill="none" marker-mid="url(#sG)"/>
<text x="309" y="886.3" font-size="34" text-anchor="start" fill="#000" textLength="46.2" lengthAdjust="spacingAndGlyphs" >8.8</text>
<text x="370.5" y="886.3" font-size="34" text-anchor="start" fill="#000" textLength="49" lengthAdjust="spacingAndGlyphs" >nm</text>
<path d="M209.5,1412.4 L246.4,1412.4 L283.8,1412.4" stroke="#e60012" stroke-width="3" fill="none" marker-mid="url(#oR)"/>
<text x="291.5" y="1423" font-size="34" text-anchor="start" fill="#000" textLength="64.3" lengthAdjust="spacingAndGlyphs" >85.5</text>
<text x="372.1" y="1423" font-size="34" text-anchor="start" fill="#000" textLength="49" lengthAdjust="spacingAndGlyphs" >nm</text>
<path d="M209.5,1451.5 L246.4,1451.5 L283.8,1451.5" stroke="#2c4297" stroke-width="3" fill="none" marker-mid="url(#oB)"/>
<text x="291.5" y="1462.07" font-size="34" text-anchor="start" fill="#000" textLength="64.3" lengthAdjust="spacingAndGlyphs" >53.4</text>
<text x="372.1" y="1462.07" font-size="34" text-anchor="start" fill="#000" textLength="49" lengthAdjust="spacingAndGlyphs" >nm</text>
<path d="M209.5,1490.5 L246.4,1490.5 L283.8,1490.5" stroke="#c04a9e" stroke-width="3" fill="none" marker-mid="url(#oM)"/>
<text x="291.5" y="1501.14" font-size="34" text-anchor="start" fill="#000" textLength="64.3" lengthAdjust="spacingAndGlyphs" >24.0</text>
<text x="372.1" y="1501.14" font-size="34" text-anchor="start" fill="#000" textLength="49" lengthAdjust="spacingAndGlyphs" >nm</text>
<path d="M209.5,1529.6 L246.4,1529.6 L283.8,1529.6" stroke="#0b7e3b" stroke-width="3" fill="none" marker-mid="url(#oG)"/>
<text x="291.5" y="1540.21" font-size="34" text-anchor="start" fill="#000" textLength="46.2" lengthAdjust="spacingAndGlyphs" >8.8</text>
<text x="353.2" y="1540.21" font-size="34" text-anchor="start" fill="#000" textLength="49" lengthAdjust="spacingAndGlyphs" >nm</text>
<text x="53.5" y="28.5" font-size="34" text-anchor="start" fill="#000" textLength="42.9" lengthAdjust="spacingAndGlyphs" >(a)</text>
<text transform="translate(89.3,291.3) rotate(-90)" font-size="34" text-anchor="middle" textLength="344.9" lengthAdjust="spacingAndGlyphs">Intensity (arb. units)</text>
<text x="337.1" y="79.7" font-size="34" text-anchor="start" fill="#000" textLength="92.4" lengthAdjust="spacingAndGlyphs" >SmIG</text>
<text x="447.1" y="79.7" font-size="34" text-anchor="start" fill="#000" textLength="81.3" lengthAdjust="spacingAndGlyphs" >(004)</text>
<text x="565.1" y="57.5" font-size="34" text-anchor="start" fill="#000" textLength="105.7" lengthAdjust="spacingAndGlyphs" >GSGG</text>
<text x="687.3" y="57.5" font-size="34" text-anchor="start" fill="#000" textLength="82.4" lengthAdjust="spacingAndGlyphs" >(004)</text>
<text x="161.9" y="252" font-size="34" text-anchor="start" fill="#e60012" textLength="64.3" lengthAdjust="spacingAndGlyphs" >85.5</text>
<text x="242.3" y="252" font-size="34" text-anchor="start" fill="#e60012" textLength="49" lengthAdjust="spacingAndGlyphs" >nm</text>
<text x="162.4" y="333.7" font-size="34" text-anchor="start" fill="#2c4297" textLength="64.3" lengthAdjust="spacingAndGlyphs" >53.4</text>
<text x="242.3" y="333.7" font-size="34" text-anchor="start" fill="#2c4297" textLength="49" lengthAdjust="spacingAndGlyphs" >nm</text>
<text x="158.7" y="408.2" font-size="34" text-anchor="start" fill="#c04a9e" textLength="64.3" lengthAdjust="spacingAndGlyphs" >24.0</text>
<text x="239.5" y="408.2" font-size="34" text-anchor="start" fill="#c04a9e" textLength="49" lengthAdjust="spacingAndGlyphs" >nm</text>
<text x="173.6" y="491" font-size="34" text-anchor="start" fill="#0b7e3b" textLength="46.2" lengthAdjust="spacingAndGlyphs" >8.8</text>
<text x="236.3" y="491" font-size="34" text-anchor="start" fill="#0b7e3b" textLength="49" lengthAdjust="spacingAndGlyphs" >nm</text>
<text x="136.6" y="589.8" font-size="34" text-anchor="middle" fill="#000" textLength="35" lengthAdjust="spacingAndGlyphs" >25</text>
<text x="256.1" y="589.8" font-size="34" text-anchor="middle" fill="#000" textLength="35" lengthAdjust="spacingAndGlyphs" >26</text>
<text x="375.6" y="589.8" font-size="34" text-anchor="middle" fill="#000" textLength="35" lengthAdjust="spacingAndGlyphs" >27</text>
<text x="495.1" y="589.8" font-size="34" text-anchor="middle" fill="#000" textLength="35" lengthAdjust="spacingAndGlyphs" >28</text>
<text x="614.6" y="589.8" font-size="34" text-anchor="middle" fill="#000" textLength="35" lengthAdjust="spacingAndGlyphs" >29</text>
<text x="734.1" y="589.8" font-size="34" text-anchor="middle" fill="#000" textLength="35" lengthAdjust="spacingAndGlyphs" >30</text>
<text x="853.6" y="589.8" font-size="34" text-anchor="middle" fill="#000" textLength="35" lengthAdjust="spacingAndGlyphs" >31</text>
<text x="456.6" y="631.5" font-size="34" textLength="32" lengthAdjust="spacingAndGlyphs">2<tspan font-style="italic">θ</tspan></text>
<text x="501.2" y="631.5" font-size="34" text-anchor="start" fill="#000" textLength="34.4" lengthAdjust="spacingAndGlyphs" >(°)</text>
<text x="10.7" y="685.5" font-size="34" text-anchor="start" fill="#000" textLength="46" lengthAdjust="spacingAndGlyphs" >(b)</text>
<text transform="translate(38.4,932) rotate(-90)" font-size="34" text-anchor="middle" textLength="321.7" lengthAdjust="spacingAndGlyphs">Moment (emu/cm<tspan font-size="22" dy="-13">3</tspan><tspan dy="13">)</tspan></text>
<text x="76.6" y="675.31" font-size="34" text-anchor="start" fill="#000" textLength="52.4" lengthAdjust="spacingAndGlyphs" >150</text>
<text x="76.6" y="766.97" font-size="34" text-anchor="start" fill="#000" textLength="52.4" lengthAdjust="spacingAndGlyphs" >100</text>
<text x="94.5" y="858.64" font-size="34" text-anchor="start" fill="#000" textLength="34.5" lengthAdjust="spacingAndGlyphs" >50</text>
<text x="112.5" y="950.3" font-size="34" text-anchor="start" fill="#000" textLength="16.5" lengthAdjust="spacingAndGlyphs" >0</text>
<rect x="66.5" y="1032.12" width="22.4" height="1.7" fill="#000"/>
<text x="94.5" y="1041.97" font-size="34" text-anchor="start" fill="#000" textLength="34.5" lengthAdjust="spacingAndGlyphs" >50</text>
<rect x="48" y="1123.78" width="22" height="1.7" fill="#000"/>
<text x="76.6" y="1133.63" font-size="34" text-anchor="start" fill="#000" textLength="52.4" lengthAdjust="spacingAndGlyphs" >100</text>
<rect x="48" y="1215.45" width="22" height="1.7" fill="#000"/>
<text x="76.6" y="1225.3" font-size="34" text-anchor="start" fill="#000" textLength="52.4" lengthAdjust="spacingAndGlyphs" >150</text>
<rect x="139.6" y="1239.35" width="22" height="1.7" fill="#000"/>
<text x="166" y="1249.2" font-size="34" text-anchor="start" fill="#000" textLength="66.3" lengthAdjust="spacingAndGlyphs" >0.50</text>
<rect x="301.6" y="1239.35" width="22.4" height="1.7" fill="#000"/>
<text x="328.4" y="1249.2" font-size="34" text-anchor="start" fill="#000" textLength="66.6" lengthAdjust="spacingAndGlyphs" >0.25</text>
<text x="489.8" y="1249.2" font-size="34" text-anchor="start" fill="#000" textLength="16.5" lengthAdjust="spacingAndGlyphs" >0</text>
<text x="632" y="1249.2" font-size="34" text-anchor="start" fill="#000" textLength="64.4" lengthAdjust="spacingAndGlyphs" >0.25</text>
<text x="795" y="1249.2" font-size="34" text-anchor="start" fill="#000" textLength="64.5" lengthAdjust="spacingAndGlyphs" >0.50</text>
<text x="433.5" y="1288.6" font-size="34" text-anchor="start" fill="#000" textLength="28.9" lengthAdjust="spacingAndGlyphs" font-style="italic">H</text>
<text x="477.5" y="1288.6" font-size="34" text-anchor="start" fill="#000" textLength="91.4" lengthAdjust="spacingAndGlyphs" >(kOe)</text>
<text x="273.2" y="725.3" font-size="34" text-anchor="start" fill="#000" textLength="50.8" lengthAdjust="spacingAndGlyphs" >OP</text>
<text x="31.1" y="1353.5" font-size="34" text-anchor="start" fill="#000" textLength="41.4" lengthAdjust="spacingAndGlyphs" >(c)</text>
<text transform="translate(40,1596.9) rotate(-90)" font-size="34" text-anchor="middle" textLength="321.7" lengthAdjust="spacingAndGlyphs">Moment (emu/cm<tspan font-size="22" dy="-13">3</tspan><tspan dy="13">)</tspan></text>
<text x="100.1" y="1367.2" font-size="34" text-anchor="start" fill="#000" textLength="34.5" lengthAdjust="spacingAndGlyphs" >40</text>
<text x="100.1" y="1489.6" font-size="34" text-anchor="start" fill="#000" textLength="34.5" lengthAdjust="spacingAndGlyphs" >20</text>
<text x="118" y="1612" font-size="34" text-anchor="start" fill="#000" textLength="16.6" lengthAdjust="spacingAndGlyphs" >0</text>
<rect x="72.9" y="1724.55" width="21.6" height="1.7" fill="#000"/>
<text x="100.1" y="1734.4" font-size="34" text-anchor="start" fill="#000" textLength="34.5" lengthAdjust="spacingAndGlyphs" >20</text>
<rect x="72.9" y="1846.95" width="21.6" height="1.7" fill="#000"/>
<text x="100.1" y="1856.8" font-size="34" text-anchor="start" fill="#000" textLength="34.5" lengthAdjust="spacingAndGlyphs" >40</text>
<rect x="143.2" y="1898.95" width="22" height="1.7" fill="#000"/>
<text x="172.1" y="1908.8" font-size="34" text-anchor="start" fill="#000" textLength="63.6" lengthAdjust="spacingAndGlyphs" >1.00</text>
<rect x="304.7" y="1898.95" width="22" height="1.7" fill="#000"/>
<text x="333.6" y="1908.8" font-size="34" text-anchor="start" fill="#000" textLength="65" lengthAdjust="spacingAndGlyphs" >0.50</text>
<text x="492.6" y="1908.8" font-size="34" text-anchor="start" fill="#000" textLength="16.4" lengthAdjust="spacingAndGlyphs" >0</text>
<text x="634.6" y="1908.8" font-size="34" text-anchor="start" fill="#000" textLength="64.6" lengthAdjust="spacingAndGlyphs" >0.50</text>
<text x="798.5" y="1908.8" font-size="34" text-anchor="start" fill="#000" textLength="63.5" lengthAdjust="spacingAndGlyphs" >1.00</text>
<text x="437.7" y="1949.6" font-size="34" text-anchor="start" fill="#000" textLength="28.8" lengthAdjust="spacingAndGlyphs" font-style="italic">H</text>
<text x="481.6" y="1949.6" font-size="34" text-anchor="start" fill="#000" textLength="89.2" lengthAdjust="spacingAndGlyphs" >(kOe)</text>
<text x="277.2" y="1385.2" font-size="34" text-anchor="start" fill="#000" textLength="35.8" lengthAdjust="spacingAndGlyphs" >IP</text>
</svg></body></html>
